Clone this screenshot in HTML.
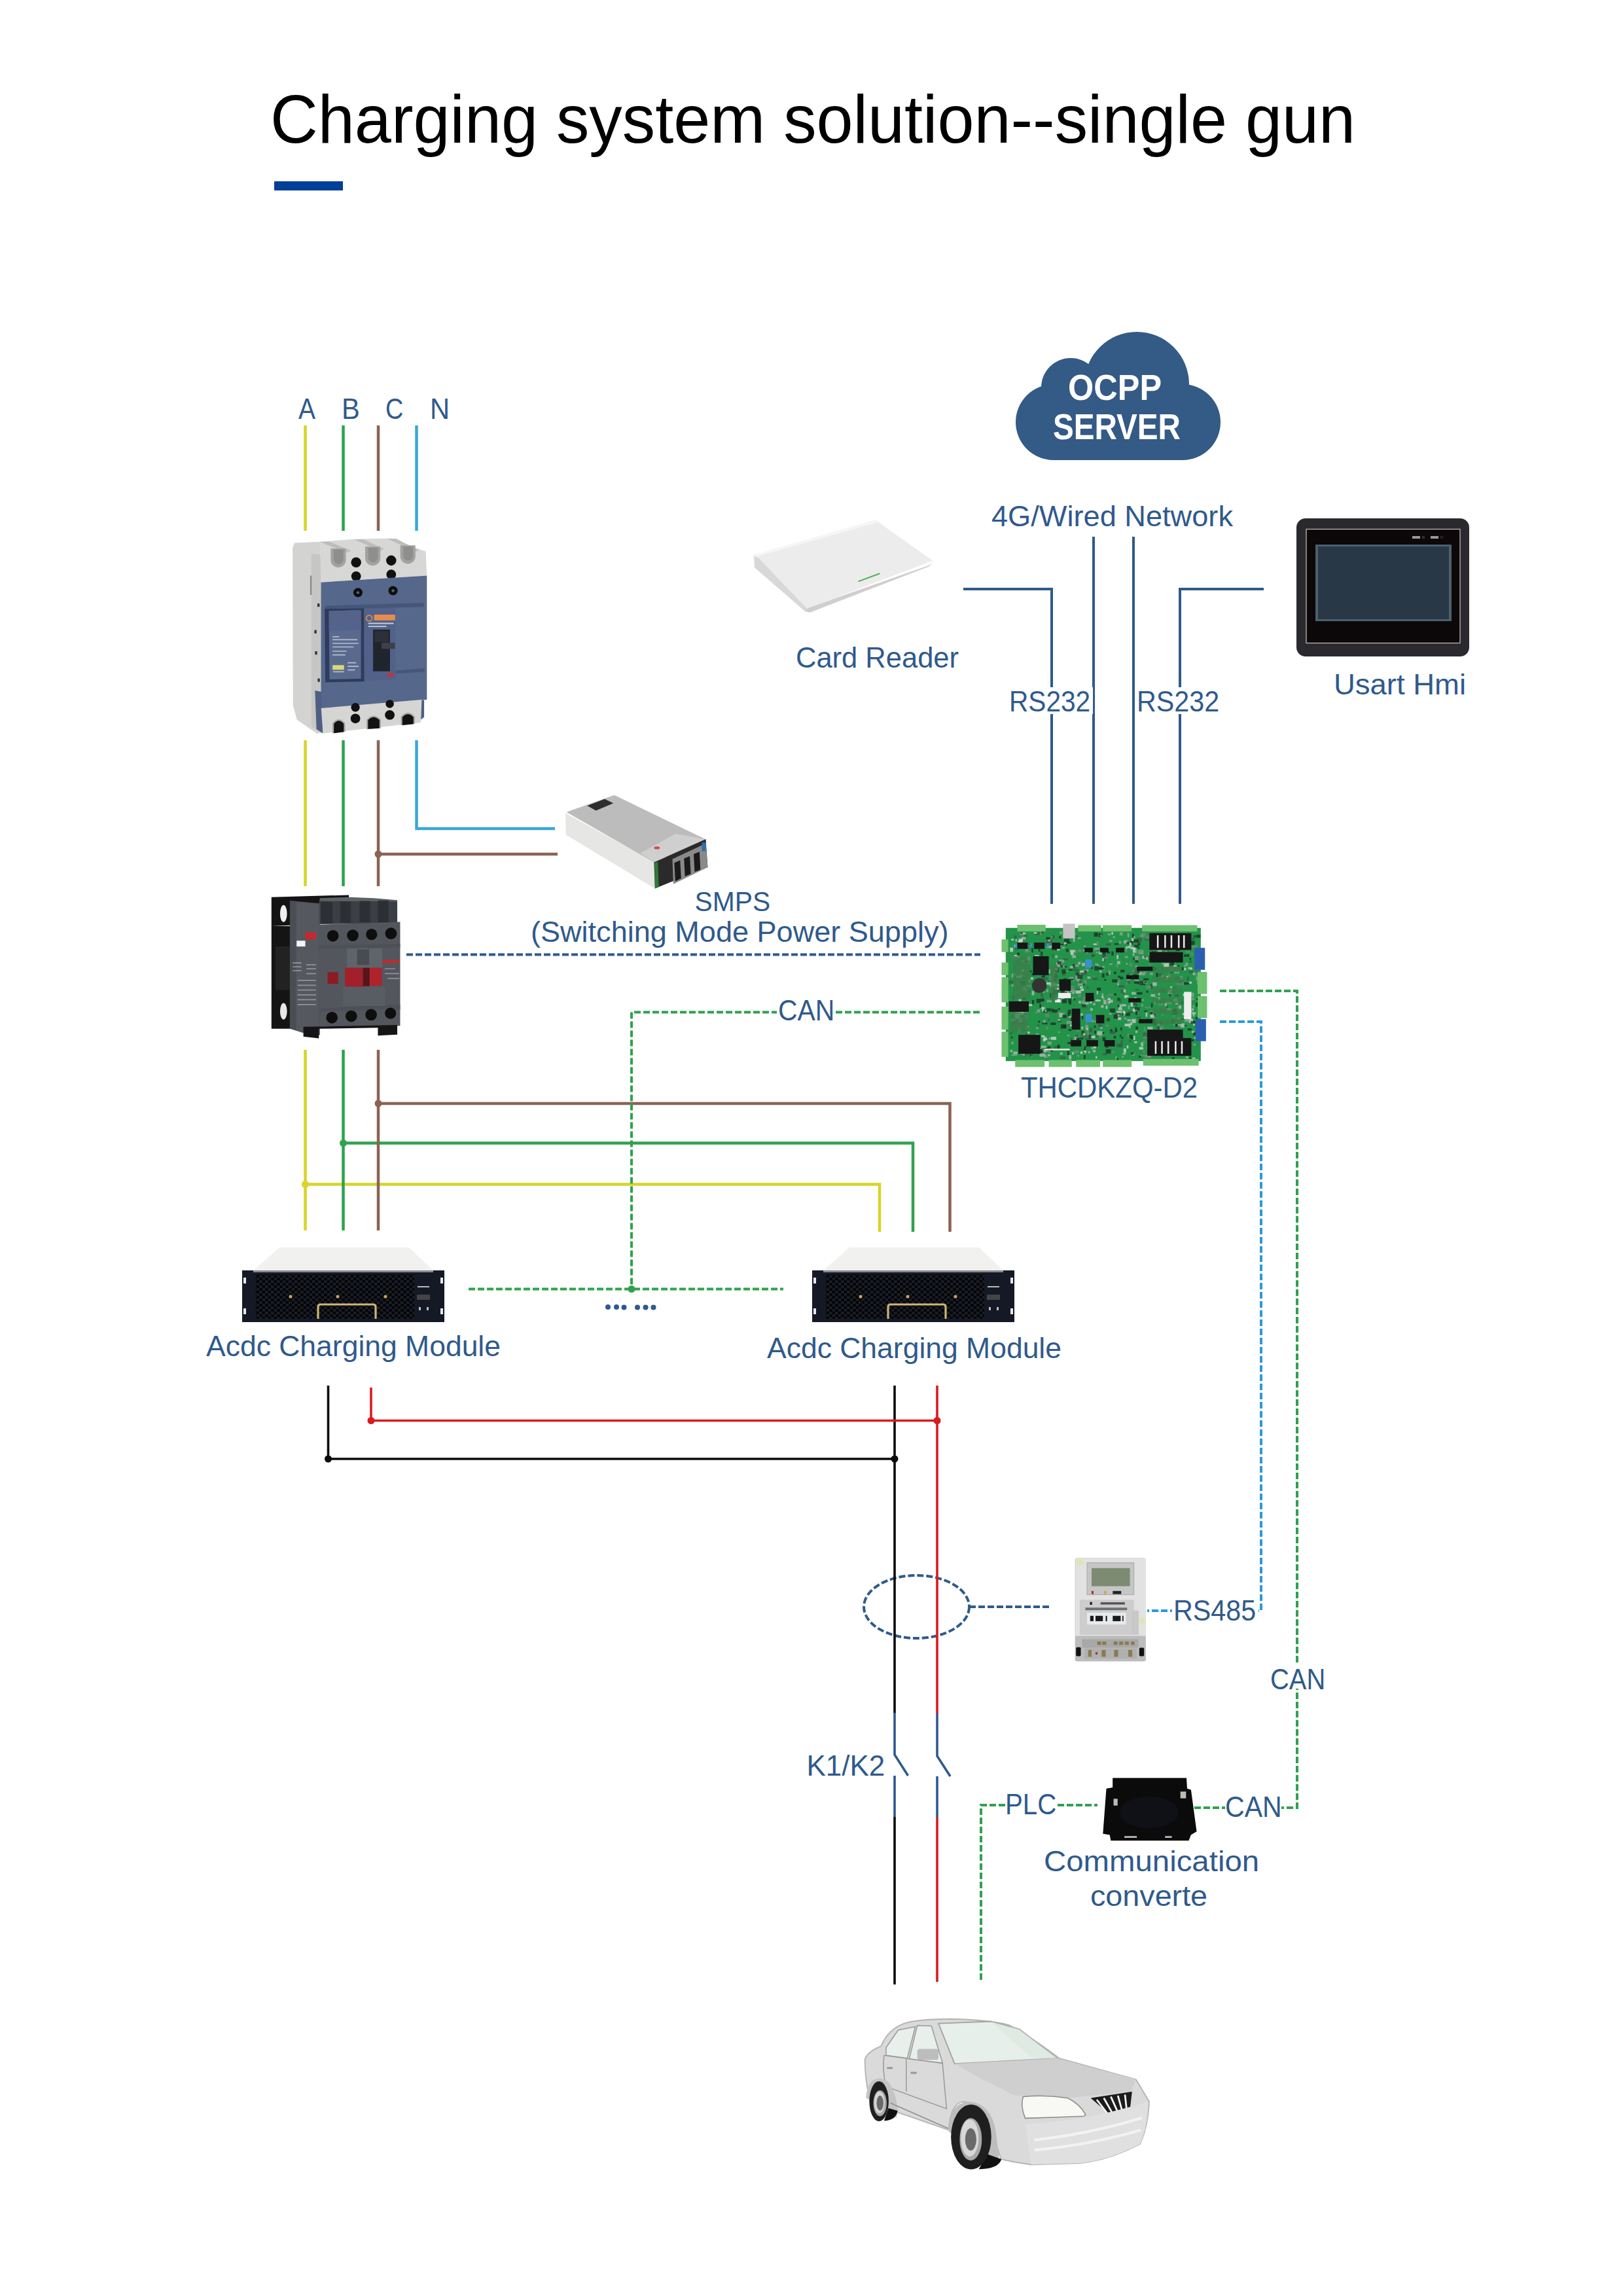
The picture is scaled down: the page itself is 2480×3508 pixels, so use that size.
<!DOCTYPE html>
<html><head><meta charset="utf-8">
<style>
html,body{margin:0;padding:0;background:#fff;}
body{width:2480px;height:3508px;overflow:hidden;position:relative;}
svg{position:absolute;left:0;top:0;}
text{font-family:"Liberation Sans",sans-serif;}
</style></head><body>
<svg width="2480" height="3508" viewBox="0 0 2480 3508">
<!-- title -->
<rect x="419" y="277" width="105" height="14" fill="#003f98"/>

<!-- AC lines -->
<g stroke-width="4.5" fill="none">
<path d="M466.5 650V811M466.5 1131V1354M466.5 1604V1880M466.5 1809.5H1344V1882" stroke="#d8d42a"/>
<path d="M524.5 650V811M524.5 1131V1354M524.5 1604V1880M524.5 1746.5H1395V1882" stroke="#2ea24e"/>
<path d="M578 650V811M578 1131V1354M578 1604V1880M578 1305H852M578 1686H1451.5V1882" stroke="#8b6354"/>
<path d="M636.5 650V811M636.5 1131V1266H848" stroke="#3aa6dc"/>
</g>
<circle cx="466.5" cy="1809.5" r="5.5" fill="#d8d42a"/>
<circle cx="524.5" cy="1746.5" r="5.5" fill="#2ea24e"/>
<circle cx="578" cy="1686" r="5.5" fill="#8b6354"/>
<circle cx="578" cy="1305" r="5.5" fill="#8b6354"/>

<!-- comm lines -->
<g stroke="#2f5a8c" stroke-width="4" fill="none">
<path d="M1472 900H1607V1381M1671 820V1381M1732 820V1381M1931 900H1803V1381"/>
</g>
<g fill="none" stroke-width="4" stroke-dasharray="10 4">
<path d="M621 1458.5H1498" stroke="#2f5a8c"/>
<path d="M1497 1546.5H965V1969.5" stroke="#2ea24e"/>
<path d="M716 1969.5H1197" stroke="#2ea24e"/>
<path d="M1864 1514H1982V2762H1958" stroke="#2ea24e"/>
<path d="M1864 1561H1927V2461H1753" stroke="#2a9ad8"/>
<path d="M1536 2758H1499V3028" stroke="#2ea24e"/>
<path d="M1616 2758H1677" stroke="#2ea24e"/>
<path d="M1825 2762H1872" stroke="#2ea24e"/>
<path d="M1481 2455H1605" stroke="#2f5a8c"/>
<ellipse cx="1400.5" cy="2455" rx="80.5" ry="48" stroke="#2f5a8c"/>
</g>
<circle cx="965" cy="1969.5" r="5.5" fill="#2ea24e"/>

<!-- DC lines -->
<g stroke-width="3.6" fill="none">
<path d="M501.5 2117V2229H1367M1367 2117V2617M1367 2776V3032" stroke="#0d0a0a"/>
<path d="M567 2120V2170.5H1432M1432 2117V2618M1432 2777V3028" stroke="#da1a20"/>
<path d="M1367 2617V2681L1387.5 2713M1367 2713V2776M1432 2618V2683L1452 2714M1432 2714V2777" stroke="#2f5a8c"/>
</g>
<circle cx="501.5" cy="2229" r="5.5" fill="#0d0a0a"/>
<circle cx="1367" cy="2229" r="5.5" fill="#0d0a0a"/>
<circle cx="567" cy="2170.5" r="5.5" fill="#da1a20"/>
<circle cx="1432" cy="2170.5" r="5.5" fill="#da1a20"/>

<!-- cloud -->
<g fill="#345a86">
<circle cx="1610" cy="645" r="58"/><circle cx="1636" cy="592" r="45"/><circle cx="1737" cy="587" r="80"/><circle cx="1807" cy="645" r="58"/><rect x="1610" y="600" width="197" height="103"/>
</g>


<!-- text bg -->
<rect x="1540" y="1050" width="130" height="41" fill="#fff"/>
<rect x="1736" y="1050" width="130" height="41" fill="#fff"/>
<rect x="1187" y="1525" width="89" height="38" fill="#fff"/>
<rect x="1940" y="2544" width="86" height="36" fill="#fff"/>
<rect x="1791" y="2440" width="132" height="40" fill="#fff"/>
<g fill="#2f5a8c"><circle cx="929" cy="1997" r="4"/><circle cx="942" cy="1997" r="4"/><circle cx="953.5" cy="1997.5" r="4"/><circle cx="974" cy="1997.5" r="4"/><circle cx="986.5" cy="1997.5" r="4"/><circle cx="998.5" cy="1997.5" r="4"/></g>

<!-- breaker: zoom origin 400,800 scale 5.41 -->
<g transform="translate(400,800) scale(0.18484)">
<polygon points="255,200 270,160 480,150 490,485 500,1730 455,1735 290,1620 258,1500" fill="#d3d3d1"/>
<polygon points="410,250 490,255 500,1725 410,1680" fill="#c6c6c4"/>
<g fill="#333"><rect x="460" y="660" width="18" height="28"/><rect x="435" y="880" width="18" height="28"/><rect x="440" y="1055" width="18" height="28"/><rect x="462" y="1280" width="18" height="28"/></g>
<rect x="400" y="430" width="12" height="160" fill="#888"/>
<polygon points="480,150 760,128 1050,122 1355,230 1365,430 490,485" fill="#d7d7d5"/>
<g fill="#bdbdbb"><polygon points="480,150 560,150 740,225 700,240"/><polygon points="760,130 840,130 1010,210 980,225"/><polygon points="1040,125 1110,125 1300,220 1270,235"/></g>
<path d="M570,205 H695 V300 A62,62 0 0 1 570,300 Z M855,190 H980 V285 A62,62 0 0 1 855,285 Z M1145,180 H1270 V270 A62,62 0 0 1 1145,270 Z" fill="#a2a2a0"/>
<path d="M595,215 H675 V295 A40,40 0 0 1 595,295 Z M880,200 H960 V280 A40,40 0 0 1 880,280 Z M1170,190 H1250 V265 A40,40 0 0 1 1170,265 Z" fill="#8e8e8c"/>
<g fill="#111"><circle cx="780" cy="320" r="42"/><circle cx="1070" cy="305" r="42"/><circle cx="780" cy="435" r="40"/><circle cx="1070" cy="420" r="40"/></g>
<polygon points="490,485 1365,430 1365,1455 490,1530" fill="#56678c"/>
<polygon points="440,1380 492,1390 506,1734 452,1700" fill="#4f5f84"/>
<polygon points="1315,1460 1342,1458 1342,1600 1315,1620" fill="#4f5f84"/>
<polygon points="525,680 1340,655 1340,690 525,710" fill="#46567a"/>
<g fill="#0e0e0e"><circle cx="795" cy="570" r="38"/><circle cx="1085" cy="555" r="38"/></g>
<g fill="#5a6270"><circle cx="795" cy="570" r="12"/><circle cx="1085" cy="555" r="12"/></g>
<polygon points="520,705 845,700 848,1305 525,1312" fill="#2f3b5c"/>
<polygon points="555,722 820,716 820,1282 560,1288" fill="#5a6a8f"/>
<polygon points="555,722 820,716 820,880 555,890" fill="#53638a"/>
<g stroke="#dfe3ea" stroke-width="9" opacity="0.7"><path d="M585,935H640M585,960H790M585,990H800M585,1020H760M585,1055H700M585,1085H690M710,1150H780M710,1180H800M710,1210H770M590,1225H680"/></g>
<rect x="585" y="1170" width="95" height="38" fill="#d9d874"/>
<polygon points="848,700 1105,695 1105,1290 848,1298" fill="#51618a"/>
<rect x="928" y="752" width="174" height="48" fill="#e58d4e"/>
<circle cx="888" cy="782" r="24" fill="none" stroke="#e58d4e" stroke-width="9"/>
<g stroke="#e6e9ee" stroke-width="10" opacity="0.8"><path d="M880,825H1090M880,850H1030"/></g>
<rect x="920" y="876" width="140" height="345" fill="#20242d"/>
<rect x="932" y="890" width="118" height="90" fill="#2c3039"/>
<rect x="990" y="985" width="112" height="50" fill="#3b4049"/>
<rect x="1040" y="1235" width="50" height="30" fill="#c4323a"/>
<polygon points="1105,695 1345,688 1345,1215 1105,1225" fill="#57688d"/>
<polygon points="1105,1215 1345,1195 1345,1225 1105,1240" fill="#47577c"/>
<polygon points="491,1526 1322,1455 1315,1645 506,1734" fill="#d5d5d3"/>
<path d="M584,1734 V1650 Q637,1585 690,1650 V1720 Z M866,1700 V1620 Q925,1555 985,1620 V1690 Z M1150,1668 V1595 Q1208,1530 1266,1595 V1655 Z" fill="#a6a6a4"/>
<path d="M596,1732 V1655 Q637,1605 678,1655 V1722 Z M878,1698 V1625 Q925,1575 973,1625 V1692 Z M1162,1666 V1600 Q1208,1552 1254,1600 V1657 Z" fill="#121212"/>
<g fill="#111"><circle cx="774" cy="1519" r="36"/><circle cx="1058" cy="1490" r="34"/><circle cx="774" cy="1611" r="40"/><circle cx="1058" cy="1582" r="40"/></g>
</g>
</g>

<!-- contactor: zoom region [400,1350] scale 6.7625 -->
<g transform="translate(400,1350) scale(0.14787)">
<polygon points="100,140 900,118 900,150 600,165 600,420 100,440" fill="#141414"/>
<polygon points="600,150 900,140 1160,150 1400,170 1400,200 600,190" fill="#5e6166"/>
<polygon points="100,440 350,440 350,1500 100,1500" fill="#141414"/>
<polygon points="140,650 290,650 290,1100 140,1100" fill="#222"/>
<ellipse cx="225" cy="310" rx="36" ry="88" fill="#f0f0f0"/>
<ellipse cx="225" cy="1320" rx="36" ry="85" fill="#e8e8e8"/>
<polygon points="290,175 600,205 600,1565 420,1540 290,1500" fill="#4a4d53"/>
<polygon points="355,190 590,210 590,1560 355,1520" fill="#55595f"/>
<rect x="360" y="590" width="90" height="60" fill="#f4f4f4"/>
<rect x="450" y="505" width="110" height="70" fill="#c8262c"/>
<g stroke="#b8bcc2" stroke-width="12" opacity="0.6"><path d="M320,820H410M320,860H410M320,900H410M460,840H560M460,880H560M460,930H560M370,1000H560M370,1050H560M370,1100H560M370,1150H560M370,1200H560M370,1250H560"/></g>
<polygon points="600,180 1400,185 1400,410 600,420" fill="#3b3e44"/>
<g fill="#2c2f34"><rect x="610" y="190" width="120" height="220"/><rect x="810" y="185" width="110" height="220"/><rect x="1010" y="180" width="110" height="220"/><rect x="1200" y="175" width="110" height="230"/></g>
<polygon points="585,425 1430,395 1430,1470 595,1480" fill="#53575d"/>
<polygon points="590,640 1430,620 1430,660 590,670" fill="#4d5056"/>
<polygon points="595,1290 1430,1250 1430,1300 595,1320" fill="#4d5056"/>
<g fill="#0e0e0e"><circle cx="735" cy="540" r="60"/><circle cx="940" cy="535" r="60"/><circle cx="1135" cy="525" r="58"/><circle cx="1335" cy="515" r="60"/><circle cx="725" cy="1385" r="60"/><circle cx="925" cy="1370" r="60"/><circle cx="1130" cy="1355" r="60"/><circle cx="1330" cy="1340" r="58"/></g>
<rect x="880" y="670" width="365" height="200" fill="#5f636a"/>
<rect x="985" y="680" width="125" height="160" fill="#484b50"/>
<rect x="680" y="915" width="110" height="120" fill="#8c1c22"/>
<rect x="860" y="870" width="185" height="200" fill="#a2202a"/>
<rect x="1045" y="870" width="70" height="190" fill="#5a1418"/>
<rect x="1115" y="870" width="125" height="185" fill="#b0222c"/>
<rect x="840" y="1065" width="435" height="200" fill="#585c63"/>
<rect x="1245" y="790" width="175" height="30" fill="#c42a2a"/>
<g stroke="#c6c9ce" stroke-width="10" opacity="0.6"><path d="M1270,880H1380M1270,930H1420M1300,980H1420"/></g>
<polygon points="430,1480 1400,1460 1400,1560 1200,1570 1200,1490 590,1500 590,1600 430,1580" fill="#151515"/>
</g>

<!-- SMPS: origin 850,1200 scale 6.7625 -->
<g transform="translate(850,1200) scale(0.14787)">
<polygon points="95,285 1010,790 1020,1065 100,510" fill="#e6e6e4"/>
<polygon points="105,275 600,100 1540,555 1010,795" fill="#bcbcbc"/>
<polygon points="870,700 1230,500 1540,555 1010,795" fill="#cfcfd0"/>
<polygon points="320,210 500,140 590,185 410,260" fill="#2e2e2e"/>
<ellipse cx="1040" cy="645" rx="30" ry="15" fill="#d84848"/>
<polygon points="1010,795 1545,555 1565,845 1020,1065" fill="#2a2a2a"/>
<polygon points="1200,760 1545,600 1565,845 1210,1020" fill="#8a8a8a"/>
<g fill="#1a1a1a"><polygon points="1220,800 1280,775 1290,960 1230,990"/><polygon points="1320,755 1380,730 1390,915 1330,940"/><polygon points="1420,710 1480,685 1490,870 1430,895"/></g>
<polygon points="1015,800 1050,790 1060,1050 1020,1065" fill="#2f7a3a"/>
<rect x="1505" y="590" width="40" height="90" fill="#2c70b0"/>
</g>

<!-- card reader: origin 1120,760 scale 2.898 -->
<g transform="translate(1120,760) scale(0.34507)">
<polygon points="95,300 320,505 340,510 870,305 885,285 870,300 330,490" fill="#cfcfcf"/>
<polygon points="90,255 630,100 885,280 320,495 95,305" fill="#ececec"/>
<polygon points="90,255 630,100 650,108 105,262" fill="#f6f6f6"/>
<polygon points="95,262 110,265 330,495 320,505 95,310" fill="#d8d8d8"/>
<line x1="555" y1="372" x2="650" y2="337" stroke="#52b04e" stroke-width="6"/>
</g>

<!-- HMI -->
<rect x="1981" y="792" width="264" height="211" rx="14" fill="#2a2a2e"/>
<rect x="1996" y="808.5" width="235" height="174" fill="#0c0809" stroke="#bdb8b8" stroke-width="1.3"/>
<rect x="2010" y="832" width="208" height="117" fill="#4c606e"/>
<rect x="2014" y="835" width="200" height="111" fill="#293847"/>
<g fill="#999"><rect x="2158" y="819" width="12" height="4"/><rect x="2186" y="819" width="12" height="4"/></g>
<rect x="2173" y="819" width="4" height="4" fill="#1f3a2a"/><rect x="2201" y="819" width="4" height="4" fill="#3a1a1e"/>

<!-- controller board: origin 1500,1320 scale 3.121 -->
<g transform="translate(1500,1320) scale(0.32041)">
<rect x="115" y="305" width="930" height="635" fill="#23934a"/>
<rect x="421" y="411" width="25" height="8" fill="#6f8a78" opacity="0.75"/>
<rect x="869" y="377" width="20" height="8" fill="#8fa898" opacity="0.75"/>
<rect x="323" y="372" width="15" height="8" fill="#b8c4bc" opacity="0.75"/>
<rect x="212" y="577" width="20" height="8" fill="#b8c4bc" opacity="0.75"/>
<rect x="698" y="673" width="8" height="20" fill="#8fa898" opacity="0.75"/>
<rect x="487" y="911" width="8" height="20" fill="#14301f" opacity="0.75"/>
<rect x="250" y="574" width="20" height="8" fill="#8fa898" opacity="0.75"/>
<rect x="408" y="814" width="10" height="8" fill="#8fa898" opacity="0.75"/>
<rect x="644" y="434" width="8" height="20" fill="#d8dcd6" opacity="0.75"/>
<rect x="187" y="356" width="10" height="15" fill="#d8dcd6" opacity="0.75"/>
<rect x="609" y="790" width="15" height="20" fill="#3a5a48" opacity="0.75"/>
<rect x="455" y="470" width="10" height="10" fill="#6f8a78" opacity="0.75"/>
<rect x="647" y="638" width="12" height="15" fill="#1e2a24" opacity="0.75"/>
<rect x="678" y="364" width="20" height="15" fill="#b8c4bc" opacity="0.75"/>
<rect x="811" y="412" width="15" height="15" fill="#6f8a78" opacity="0.75"/>
<rect x="996" y="367" width="20" height="20" fill="#14301f" opacity="0.75"/>
<rect x="918" y="510" width="25" height="12" fill="#8fa898" opacity="0.75"/>
<rect x="577" y="802" width="8" height="8" fill="#1e2a24" opacity="0.75"/>
<rect x="557" y="722" width="8" height="12" fill="#d8dcd6" opacity="0.75"/>
<rect x="650" y="732" width="15" height="12" fill="#d8dcd6" opacity="0.75"/>
<rect x="477" y="725" width="8" height="15" fill="#1e2a24" opacity="0.75"/>
<rect x="281" y="391" width="8" height="10" fill="#14301f" opacity="0.75"/>
<rect x="389" y="767" width="15" height="15" fill="#14301f" opacity="0.75"/>
<rect x="577" y="421" width="15" height="20" fill="#1e2a24" opacity="0.75"/>
<rect x="925" y="816" width="20" height="12" fill="#d8dcd6" opacity="0.75"/>
<rect x="504" y="537" width="15" height="10" fill="#b8c4bc" opacity="0.75"/>
<rect x="205" y="412" width="25" height="10" fill="#6f8a78" opacity="0.75"/>
<rect x="566" y="676" width="12" height="12" fill="#6f8a78" opacity="0.75"/>
<rect x="261" y="643" width="20" height="20" fill="#1e2a24" opacity="0.75"/>
<rect x="988" y="738" width="20" height="20" fill="#d8dcd6" opacity="0.75"/>
<rect x="739" y="353" width="25" height="20" fill="#3a5a48" opacity="0.75"/>
<rect x="488" y="558" width="15" height="15" fill="#6f8a78" opacity="0.75"/>
<rect x="302" y="916" width="15" height="10" fill="#6f8a78" opacity="0.75"/>
<rect x="436" y="352" width="8" height="20" fill="#b8c4bc" opacity="0.75"/>
<rect x="613" y="894" width="20" height="8" fill="#6f8a78" opacity="0.75"/>
<rect x="917" y="692" width="10" height="12" fill="#1e2a24" opacity="0.75"/>
<rect x="672" y="607" width="8" height="15" fill="#3a5a48" opacity="0.75"/>
<rect x="562" y="509" width="10" height="8" fill="#d8dcd6" opacity="0.75"/>
<rect x="438" y="480" width="25" height="10" fill="#8fa898" opacity="0.75"/>
<rect x="151" y="895" width="20" height="12" fill="#b8c4bc" opacity="0.75"/>
<rect x="751" y="873" width="20" height="12" fill="#d8dcd6" opacity="0.75"/>
<rect x="907" y="741" width="12" height="20" fill="#1e2a24" opacity="0.75"/>
<rect x="947" y="535" width="10" height="20" fill="#8fa898" opacity="0.75"/>
<rect x="831" y="519" width="10" height="20" fill="#14301f" opacity="0.75"/>
<rect x="840" y="779" width="10" height="10" fill="#14301f" opacity="0.75"/>
<rect x="491" y="806" width="10" height="20" fill="#3a5a48" opacity="0.75"/>
<rect x="450" y="338" width="8" height="12" fill="#3a5a48" opacity="0.75"/>
<rect x="363" y="739" width="12" height="15" fill="#14301f" opacity="0.75"/>
<rect x="973" y="918" width="12" height="8" fill="#b8c4bc" opacity="0.75"/>
<rect x="222" y="604" width="12" height="10" fill="#3a5a48" opacity="0.75"/>
<rect x="692" y="865" width="8" height="15" fill="#d8dcd6" opacity="0.75"/>
<rect x="440" y="709" width="25" height="8" fill="#3a5a48" opacity="0.75"/>
<rect x="834" y="774" width="15" height="10" fill="#3a5a48" opacity="0.75"/>
<rect x="840" y="521" width="25" height="15" fill="#3a5a48" opacity="0.75"/>
<rect x="491" y="893" width="25" height="10" fill="#b8c4bc" opacity="0.75"/>
<rect x="1024" y="337" width="20" height="15" fill="#14301f" opacity="0.75"/>
<rect x="720" y="690" width="20" height="15" fill="#d8dcd6" opacity="0.75"/>
<rect x="974" y="414" width="20" height="10" fill="#6f8a78" opacity="0.75"/>
<rect x="143" y="907" width="25" height="8" fill="#8fa898" opacity="0.75"/>
<rect x="805" y="404" width="10" height="10" fill="#6f8a78" opacity="0.75"/>
<rect x="357" y="497" width="10" height="20" fill="#1e2a24" opacity="0.75"/>
<rect x="363" y="574" width="10" height="8" fill="#d8dcd6" opacity="0.75"/>
<rect x="448" y="597" width="20" height="20" fill="#3a5a48" opacity="0.75"/>
<rect x="874" y="851" width="10" height="20" fill="#b8c4bc" opacity="0.75"/>
<rect x="601" y="331" width="15" height="10" fill="#8fa898" opacity="0.75"/>
<rect x="134" y="803" width="10" height="10" fill="#3a5a48" opacity="0.75"/>
<rect x="687" y="393" width="8" height="12" fill="#d8dcd6" opacity="0.75"/>
<rect x="597" y="656" width="8" height="20" fill="#6f8a78" opacity="0.75"/>
<rect x="354" y="488" width="8" height="20" fill="#3a5a48" opacity="0.75"/>
<rect x="636" y="780" width="8" height="15" fill="#1e2a24" opacity="0.75"/>
<rect x="681" y="626" width="20" height="10" fill="#d8dcd6" opacity="0.75"/>
<rect x="379" y="627" width="15" height="20" fill="#b8c4bc" opacity="0.75"/>
<rect x="759" y="850" width="12" height="20" fill="#b8c4bc" opacity="0.75"/>
<rect x="886" y="403" width="8" height="15" fill="#3a5a48" opacity="0.75"/>
<rect x="414" y="726" width="15" height="8" fill="#b8c4bc" opacity="0.75"/>
<rect x="733" y="794" width="10" height="12" fill="#b8c4bc" opacity="0.75"/>
<rect x="358" y="403" width="15" height="10" fill="#d8dcd6" opacity="0.75"/>
<rect x="987" y="561" width="15" height="10" fill="#d8dcd6" opacity="0.75"/>
<rect x="879" y="418" width="15" height="20" fill="#3a5a48" opacity="0.75"/>
<rect x="435" y="438" width="12" height="8" fill="#d8dcd6" opacity="0.75"/>
<rect x="459" y="524" width="15" height="15" fill="#d8dcd6" opacity="0.75"/>
<rect x="146" y="521" width="20" height="12" fill="#8fa898" opacity="0.75"/>
<rect x="995" y="388" width="10" height="8" fill="#6f8a78" opacity="0.75"/>
<rect x="369" y="344" width="10" height="12" fill="#14301f" opacity="0.75"/>
<rect x="247" y="575" width="25" height="12" fill="#3a5a48" opacity="0.75"/>
<rect x="264" y="876" width="20" height="15" fill="#d8dcd6" opacity="0.75"/>
<rect x="424" y="489" width="25" height="10" fill="#3a5a48" opacity="0.75"/>
<rect x="936" y="483" width="8" height="8" fill="#14301f" opacity="0.75"/>
<rect x="364" y="688" width="10" height="8" fill="#1e2a24" opacity="0.75"/>
<rect x="906" y="595" width="12" height="20" fill="#3a5a48" opacity="0.75"/>
<rect x="964" y="482" width="10" height="8" fill="#8fa898" opacity="0.75"/>
<rect x="769" y="888" width="10" height="12" fill="#6f8a78" opacity="0.75"/>
<rect x="293" y="884" width="25" height="12" fill="#8fa898" opacity="0.75"/>
<rect x="814" y="495" width="20" height="10" fill="#1e2a24" opacity="0.75"/>
<rect x="442" y="331" width="12" height="8" fill="#6f8a78" opacity="0.75"/>
<rect x="147" y="626" width="10" height="20" fill="#3a5a48" opacity="0.75"/>
<rect x="351" y="590" width="25" height="15" fill="#d8dcd6" opacity="0.75"/>
<rect x="576" y="825" width="15" height="20" fill="#1e2a24" opacity="0.75"/>
<rect x="749" y="914" width="12" height="10" fill="#14301f" opacity="0.75"/>
<rect x="924" y="761" width="10" height="15" fill="#1e2a24" opacity="0.75"/>
<rect x="1014" y="826" width="8" height="8" fill="#d8dcd6" opacity="0.75"/>
<rect x="797" y="475" width="10" height="8" fill="#6f8a78" opacity="0.75"/>
<rect x="729" y="550" width="20" height="12" fill="#8fa898" opacity="0.75"/>
<rect x="348" y="497" width="15" height="10" fill="#b8c4bc" opacity="0.75"/>
<rect x="372" y="322" width="12" height="12" fill="#8fa898" opacity="0.75"/>
<rect x="421" y="341" width="12" height="10" fill="#1e2a24" opacity="0.75"/>
<rect x="295" y="523" width="8" height="15" fill="#1e2a24" opacity="0.75"/>
<rect x="582" y="442" width="20" height="8" fill="#6f8a78" opacity="0.75"/>
<rect x="368" y="374" width="15" height="20" fill="#6f8a78" opacity="0.75"/>
<rect x="485" y="501" width="25" height="10" fill="#6f8a78" opacity="0.75"/>
<rect x="657" y="640" width="10" height="20" fill="#3a5a48" opacity="0.75"/>
<rect x="818" y="756" width="15" height="10" fill="#1e2a24" opacity="0.75"/>
<rect x="782" y="709" width="8" height="20" fill="#d8dcd6" opacity="0.75"/>
<rect x="516" y="744" width="20" height="10" fill="#8fa898" opacity="0.75"/>
<rect x="808" y="664" width="8" height="20" fill="#14301f" opacity="0.75"/>
<rect x="934" y="733" width="25" height="10" fill="#6f8a78" opacity="0.75"/>
<rect x="158" y="401" width="12" height="8" fill="#3a5a48" opacity="0.75"/>
<rect x="882" y="658" width="25" height="8" fill="#d8dcd6" opacity="0.75"/>
<rect x="608" y="468" width="12" height="8" fill="#3a5a48" opacity="0.75"/>
<rect x="848" y="773" width="20" height="20" fill="#6f8a78" opacity="0.75"/>
<rect x="723" y="360" width="25" height="15" fill="#1e2a24" opacity="0.75"/>
<rect x="858" y="832" width="10" height="10" fill="#b8c4bc" opacity="0.75"/>
<rect x="796" y="910" width="15" height="15" fill="#6f8a78" opacity="0.75"/>
<rect x="561" y="734" width="8" height="20" fill="#d8dcd6" opacity="0.75"/>
<rect x="708" y="367" width="10" height="12" fill="#1e2a24" opacity="0.75"/>
<rect x="716" y="739" width="20" height="20" fill="#b8c4bc" opacity="0.75"/>
<rect x="141" y="357" width="12" height="8" fill="#d8dcd6" opacity="0.75"/>
<rect x="326" y="616" width="25" height="20" fill="#1e2a24" opacity="0.75"/>
<rect x="548" y="602" width="8" height="20" fill="#b8c4bc" opacity="0.75"/>
<rect x="411" y="372" width="15" height="8" fill="#1e2a24" opacity="0.75"/>
<rect x="543" y="816" width="15" height="12" fill="#3a5a48" opacity="0.75"/>
<rect x="319" y="892" width="10" height="8" fill="#8fa898" opacity="0.75"/>
<rect x="211" y="772" width="12" height="12" fill="#b8c4bc" opacity="0.75"/>
<rect x="673" y="702" width="12" height="8" fill="#d8dcd6" opacity="0.75"/>
<rect x="459" y="621" width="15" height="15" fill="#6f8a78" opacity="0.75"/>
<rect x="273" y="895" width="25" height="15" fill="#3a5a48" opacity="0.75"/>
<rect x="402" y="405" width="12" height="15" fill="#1e2a24" opacity="0.75"/>
<rect x="239" y="520" width="12" height="12" fill="#14301f" opacity="0.75"/>
<rect x="488" y="889" width="10" height="8" fill="#d8dcd6" opacity="0.75"/>
<rect x="391" y="545" width="15" height="15" fill="#14301f" opacity="0.75"/>
<rect x="660" y="538" width="15" height="12" fill="#14301f" opacity="0.75"/>
<rect x="173" y="382" width="25" height="12" fill="#d8dcd6" opacity="0.75"/>
<rect x="972" y="471" width="12" height="15" fill="#8fa898" opacity="0.75"/>
<rect x="414" y="788" width="15" height="8" fill="#14301f" opacity="0.75"/>
<rect x="815" y="562" width="20" height="20" fill="#b8c4bc" opacity="0.75"/>
<rect x="778" y="350" width="25" height="15" fill="#3a5a48" opacity="0.75"/>
<rect x="683" y="404" width="12" height="15" fill="#6f8a78" opacity="0.75"/>
<rect x="951" y="653" width="10" height="15" fill="#3a5a48" opacity="0.75"/>
<rect x="439" y="500" width="25" height="12" fill="#3a5a48" opacity="0.75"/>
<rect x="720" y="502" width="20" height="15" fill="#6f8a78" opacity="0.75"/>
<rect x="281" y="418" width="10" height="20" fill="#14301f" opacity="0.75"/>
<rect x="577" y="453" width="12" height="15" fill="#3a5a48" opacity="0.75"/>
<rect x="256" y="436" width="8" height="10" fill="#1e2a24" opacity="0.75"/>
<rect x="630" y="513" width="12" height="12" fill="#14301f" opacity="0.75"/>
<rect x="643" y="857" width="25" height="15" fill="#3a5a48" opacity="0.75"/>
<rect x="502" y="637" width="15" height="12" fill="#1e2a24" opacity="0.75"/>
<rect x="807" y="621" width="20" height="12" fill="#b8c4bc" opacity="0.75"/>
<rect x="748" y="640" width="10" height="8" fill="#1e2a24" opacity="0.75"/>
<rect x="937" y="553" width="25" height="15" fill="#3a5a48" opacity="0.75"/>
<rect x="989" y="833" width="8" height="10" fill="#6f8a78" opacity="0.75"/>
<rect x="513" y="782" width="15" height="20" fill="#3a5a48" opacity="0.75"/>
<rect x="130" y="557" width="20" height="15" fill="#3a5a48" opacity="0.75"/>
<rect x="354" y="386" width="10" height="10" fill="#8fa898" opacity="0.75"/>
<rect x="1005" y="386" width="25" height="15" fill="#6f8a78" opacity="0.75"/>
<rect x="626" y="344" width="10" height="10" fill="#8fa898" opacity="0.75"/>
<rect x="958" y="711" width="12" height="10" fill="#d8dcd6" opacity="0.75"/>
<rect x="357" y="705" width="25" height="8" fill="#6f8a78" opacity="0.75"/>
<rect x="193" y="637" width="20" height="10" fill="#3a5a48" opacity="0.75"/>
<rect x="365" y="798" width="8" height="8" fill="#8fa898" opacity="0.75"/>
<rect x="401" y="599" width="12" height="10" fill="#3a5a48" opacity="0.75"/>
<rect x="604" y="651" width="8" height="15" fill="#d8dcd6" opacity="0.75"/>
<rect x="715" y="353" width="10" height="15" fill="#d8dcd6" opacity="0.75"/>
<rect x="712" y="369" width="10" height="15" fill="#1e2a24" opacity="0.75"/>
<rect x="334" y="341" width="12" height="15" fill="#1e2a24" opacity="0.75"/>
<rect x="744" y="440" width="12" height="20" fill="#6f8a78" opacity="0.75"/>
<rect x="315" y="907" width="12" height="10" fill="#b8c4bc" opacity="0.75"/>
<rect x="549" y="480" width="12" height="8" fill="#8fa898" opacity="0.75"/>
<rect x="576" y="433" width="10" height="15" fill="#3a5a48" opacity="0.75"/>
<rect x="949" y="354" width="20" height="10" fill="#3a5a48" opacity="0.75"/>
<rect x="179" y="334" width="20" height="10" fill="#3a5a48" opacity="0.75"/>
<rect x="177" y="356" width="15" height="15" fill="#d8dcd6" opacity="0.75"/>
<rect x="925" y="763" width="8" height="10" fill="#1e2a24" opacity="0.75"/>
<rect x="302" y="715" width="20" height="15" fill="#6f8a78" opacity="0.75"/>
<rect x="411" y="759" width="12" height="12" fill="#3a5a48" opacity="0.75"/>
<rect x="282" y="322" width="12" height="8" fill="#1e2a24" opacity="0.75"/>
<rect x="508" y="856" width="20" height="10" fill="#3a5a48" opacity="0.75"/>
<rect x="451" y="817" width="15" height="8" fill="#6f8a78" opacity="0.75"/>
<rect x="765" y="438" width="20" height="15" fill="#b8c4bc" opacity="0.75"/>
<rect x="421" y="766" width="15" height="8" fill="#d8dcd6" opacity="0.75"/>
<rect x="500" y="811" width="15" height="8" fill="#3a5a48" opacity="0.75"/>
<rect x="161" y="358" width="8" height="12" fill="#b8c4bc" opacity="0.75"/>
<rect x="803" y="864" width="12" height="12" fill="#1e2a24" opacity="0.75"/>
<rect x="431" y="897" width="8" height="12" fill="#d8dcd6" opacity="0.75"/>
<rect x="775" y="511" width="12" height="12" fill="#6f8a78" opacity="0.75"/>
<rect x="779" y="680" width="25" height="8" fill="#6f8a78" opacity="0.75"/>
<rect x="873" y="385" width="25" height="15" fill="#14301f" opacity="0.75"/>
<rect x="478" y="472" width="15" height="15" fill="#b8c4bc" opacity="0.75"/>
<rect x="965" y="431" width="25" height="12" fill="#14301f" opacity="0.75"/>
<rect x="753" y="412" width="10" height="12" fill="#14301f" opacity="0.75"/>
<rect x="418" y="539" width="20" height="8" fill="#8fa898" opacity="0.75"/>
<rect x="308" y="775" width="10" height="15" fill="#6f8a78" opacity="0.75"/>
<rect x="715" y="611" width="20" height="12" fill="#b8c4bc" opacity="0.75"/>
<rect x="1012" y="855" width="8" height="12" fill="#8fa898" opacity="0.75"/>
<rect x="206" y="378" width="15" height="15" fill="#b8c4bc" opacity="0.75"/>
<rect x="341" y="572" width="20" height="10" fill="#d8dcd6" opacity="0.75"/>
<rect x="615" y="788" width="8" height="12" fill="#1e2a24" opacity="0.75"/>
<rect x="381" y="482" width="12" height="12" fill="#b8c4bc" opacity="0.75"/>
<rect x="525" y="432" width="10" height="10" fill="#1e2a24" opacity="0.75"/>
<rect x="926" y="670" width="12" height="8" fill="#3a5a48" opacity="0.75"/>
<rect x="356" y="469" width="20" height="10" fill="#d8dcd6" opacity="0.75"/>
<rect x="858" y="715" width="8" height="8" fill="#6f8a78" opacity="0.75"/>
<rect x="557" y="816" width="15" height="12" fill="#6f8a78" opacity="0.75"/>
<rect x="919" y="461" width="8" height="10" fill="#8fa898" opacity="0.75"/>
<rect x="1006" y="673" width="8" height="12" fill="#8fa898" opacity="0.75"/>
<rect x="910" y="592" width="12" height="8" fill="#6f8a78" opacity="0.75"/>
<rect x="704" y="749" width="12" height="10" fill="#6f8a78" opacity="0.75"/>
<rect x="462" y="406" width="10" height="12" fill="#6f8a78" opacity="0.75"/>
<rect x="669" y="714" width="10" height="8" fill="#14301f" opacity="0.75"/>
<rect x="425" y="730" width="10" height="20" fill="#1e2a24" opacity="0.75"/>
<rect x="200" y="339" width="15" height="20" fill="#3a5a48" opacity="0.75"/>
<rect x="187" y="381" width="15" height="20" fill="#b8c4bc" opacity="0.75"/>
<rect x="705" y="375" width="10" height="15" fill="#d8dcd6" opacity="0.75"/>
<rect x="374" y="918" width="25" height="12" fill="#3a5a48" opacity="0.75"/>
<rect x="988" y="509" width="20" height="12" fill="#3a5a48" opacity="0.75"/>
<rect x="505" y="843" width="12" height="10" fill="#3a5a48" opacity="0.75"/>
<rect x="785" y="443" width="8" height="15" fill="#b8c4bc" opacity="0.75"/>
<rect x="511" y="816" width="15" height="20" fill="#1e2a24" opacity="0.75"/>
<rect x="545" y="418" width="8" height="8" fill="#8fa898" opacity="0.75"/>
<rect x="258" y="808" width="15" height="8" fill="#8fa898" opacity="0.75"/>
<rect x="690" y="544" width="20" height="10" fill="#b8c4bc" opacity="0.75"/>
<rect x="443" y="418" width="10" height="8" fill="#6f8a78" opacity="0.75"/>
<rect x="475" y="776" width="10" height="12" fill="#b8c4bc" opacity="0.75"/>
<rect x="884" y="346" width="15" height="12" fill="#6f8a78" opacity="0.75"/>
<rect x="677" y="705" width="8" height="20" fill="#d8dcd6" opacity="0.75"/>
<rect x="872" y="417" width="10" height="20" fill="#3a5a48" opacity="0.75"/>
<rect x="683" y="439" width="15" height="10" fill="#8fa898" opacity="0.75"/>
<rect x="326" y="562" width="20" height="10" fill="#3a5a48" opacity="0.75"/>
<rect x="453" y="410" width="25" height="10" fill="#6f8a78" opacity="0.75"/>
<rect x="925" y="830" width="25" height="8" fill="#d8dcd6" opacity="0.75"/>
<rect x="884" y="391" width="20" height="15" fill="#8fa898" opacity="0.75"/>
<rect x="894" y="791" width="25" height="15" fill="#1e2a24" opacity="0.75"/>
<rect x="654" y="578" width="25" height="12" fill="#3a5a48" opacity="0.75"/>
<rect x="583" y="428" width="8" height="20" fill="#3a5a48" opacity="0.75"/>
<rect x="549" y="590" width="20" height="15" fill="#14301f" opacity="0.75"/>
<rect x="292" y="606" width="8" height="8" fill="#b8c4bc" opacity="0.75"/>
<rect x="453" y="541" width="15" height="20" fill="#8fa898" opacity="0.75"/>
<rect x="721" y="345" width="10" height="8" fill="#d8dcd6" opacity="0.75"/>
<rect x="412" y="756" width="8" height="8" fill="#14301f" opacity="0.75"/>
<rect x="584" y="549" width="10" height="8" fill="#14301f" opacity="0.75"/>
<rect x="190" y="692" width="25" height="8" fill="#b8c4bc" opacity="0.75"/>
<rect x="248" y="856" width="12" height="10" fill="#d8dcd6" opacity="0.75"/>
<rect x="840" y="883" width="8" height="12" fill="#8fa898" opacity="0.75"/>
<rect x="811" y="416" width="20" height="12" fill="#14301f" opacity="0.75"/>
<rect x="541" y="474" width="15" height="10" fill="#8fa898" opacity="0.75"/>
<rect x="367" y="626" width="12" height="12" fill="#6f8a78" opacity="0.75"/>
<rect x="309" y="564" width="25" height="12" fill="#d8dcd6" opacity="0.75"/>
<rect x="425" y="548" width="12" height="8" fill="#14301f" opacity="0.75"/>
<rect x="608" y="705" width="12" height="15" fill="#8fa898" opacity="0.75"/>
<rect x="599" y="737" width="8" height="12" fill="#8fa898" opacity="0.75"/>
<rect x="697" y="559" width="12" height="12" fill="#3a5a48" opacity="0.75"/>
<rect x="1021" y="669" width="12" height="12" fill="#14301f" opacity="0.75"/>
<rect x="203" y="459" width="20" height="8" fill="#1e2a24" opacity="0.75"/>
<rect x="868" y="473" width="25" height="20" fill="#d8dcd6" opacity="0.75"/>
<rect x="936" y="763" width="25" height="8" fill="#b8c4bc" opacity="0.75"/>
<rect x="264" y="693" width="15" height="15" fill="#8fa898" opacity="0.75"/>
<rect x="458" y="349" width="15" height="10" fill="#8fa898" opacity="0.75"/>
<rect x="718" y="333" width="8" height="20" fill="#1e2a24" opacity="0.75"/>
<rect x="403" y="636" width="20" height="10" fill="#3a5a48" opacity="0.75"/>
<rect x="655" y="676" width="10" height="12" fill="#8fa898" opacity="0.75"/>
<rect x="876" y="416" width="8" height="10" fill="#d8dcd6" opacity="0.75"/>
<rect x="264" y="378" width="25" height="10" fill="#14301f" opacity="0.75"/>
<rect x="729" y="483" width="12" height="8" fill="#6f8a78" opacity="0.75"/>
<rect x="710" y="660" width="12" height="20" fill="#d8dcd6" opacity="0.75"/>
<rect x="651" y="684" width="20" height="15" fill="#b8c4bc" opacity="0.75"/>
<rect x="279" y="320" width="8" height="20" fill="#6f8a78" opacity="0.75"/>
<rect x="495" y="464" width="8" height="8" fill="#6f8a78" opacity="0.75"/>
<rect x="681" y="717" width="10" height="10" fill="#3a5a48" opacity="0.75"/>
<rect x="310" y="688" width="20" height="15" fill="#14301f" opacity="0.75"/>
<rect x="682" y="628" width="8" height="12" fill="#d8dcd6" opacity="0.75"/>
<rect x="174" y="858" width="15" height="20" fill="#6f8a78" opacity="0.75"/>
<rect x="468" y="584" width="15" height="8" fill="#d8dcd6" opacity="0.75"/>
<rect x="720" y="426" width="8" height="12" fill="#b8c4bc" opacity="0.75"/>
<rect x="710" y="395" width="25" height="12" fill="#d8dcd6" opacity="0.75"/>
<rect x="177" y="705" width="25" height="15" fill="#d8dcd6" opacity="0.75"/>
<rect x="840" y="637" width="12" height="12" fill="#d8dcd6" opacity="0.75"/>
<rect x="966" y="861" width="8" height="20" fill="#6f8a78" opacity="0.75"/>
<rect x="283" y="867" width="25" height="10" fill="#b8c4bc" opacity="0.75"/>
<rect x="802" y="518" width="15" height="12" fill="#8fa898" opacity="0.75"/>
<rect x="345" y="869" width="25" height="20" fill="#3a5a48" opacity="0.75"/>
<rect x="555" y="641" width="8" height="8" fill="#3a5a48" opacity="0.75"/>
<rect x="990" y="461" width="12" height="10" fill="#3a5a48" opacity="0.75"/>
<rect x="690" y="367" width="10" height="10" fill="#6f8a78" opacity="0.75"/>
<rect x="154" y="385" width="10" height="12" fill="#b8c4bc" opacity="0.75"/>
<rect x="761" y="339" width="10" height="8" fill="#d8dcd6" opacity="0.75"/>
<rect x="191" y="348" width="20" height="12" fill="#b8c4bc" opacity="0.75"/>
<rect x="866" y="816" width="25" height="8" fill="#14301f" opacity="0.75"/>
<rect x="810" y="750" width="15" height="8" fill="#b8c4bc" opacity="0.75"/>
<rect x="315" y="388" width="8" height="8" fill="#14301f" opacity="0.75"/>
<rect x="806" y="703" width="15" height="8" fill="#b8c4bc" opacity="0.75"/>
<rect x="218" y="778" width="10" height="12" fill="#1e2a24" opacity="0.75"/>
<rect x="433" y="478" width="12" height="12" fill="#1e2a24" opacity="0.75"/>
<rect x="174" y="780" width="12" height="20" fill="#8fa898" opacity="0.75"/>
<rect x="558" y="494" width="25" height="8" fill="#14301f" opacity="0.75"/>
<rect x="502" y="584" width="8" height="12" fill="#3a5a48" opacity="0.75"/>
<rect x="764" y="645" width="10" height="8" fill="#8fa898" opacity="0.75"/>
<rect x="868" y="423" width="8" height="20" fill="#b8c4bc" opacity="0.75"/>
<rect x="390" y="774" width="8" height="8" fill="#1e2a24" opacity="0.75"/>
<rect x="572" y="617" width="10" height="15" fill="#8fa898" opacity="0.75"/>
<rect x="442" y="823" width="12" height="20" fill="#b8c4bc" opacity="0.75"/>
<rect x="385" y="450" width="25" height="10" fill="#3a5a48" opacity="0.75"/>
<rect x="279" y="888" width="8" height="15" fill="#14301f" opacity="0.75"/>
<rect x="1022" y="660" width="8" height="12" fill="#1e2a24" opacity="0.75"/>
<rect x="216" y="882" width="25" height="8" fill="#3a5a48" opacity="0.75"/>
<rect x="930" y="335" width="10" height="12" fill="#1e2a24" opacity="0.75"/>
<rect x="515" y="650" width="10" height="15" fill="#d8dcd6" opacity="0.75"/>
<rect x="340" y="599" width="20" height="20" fill="#14301f" opacity="0.75"/>
<rect x="750" y="686" width="8" height="12" fill="#8fa898" opacity="0.75"/>
<rect x="424" y="414" width="15" height="20" fill="#d8dcd6" opacity="0.75"/>
<rect x="421" y="600" width="25" height="12" fill="#8fa898" opacity="0.75"/>
<rect x="338" y="522" width="25" height="10" fill="#8fa898" opacity="0.75"/>
<rect x="302" y="502" width="25" height="20" fill="#b8c4bc" opacity="0.75"/>
<rect x="781" y="910" width="25" height="12" fill="#8fa898" opacity="0.75"/>
<rect x="600" y="417" width="12" height="10" fill="#1e2a24" opacity="0.75"/>
<rect x="1008" y="761" width="8" height="10" fill="#d8dcd6" opacity="0.75"/>
<rect x="221" y="552" width="10" height="12" fill="#d8dcd6" opacity="0.75"/>
<rect x="398" y="486" width="8" height="8" fill="#1e2a24" opacity="0.75"/>
<rect x="316" y="555" width="8" height="8" fill="#3a5a48" opacity="0.75"/>
<rect x="899" y="584" width="10" height="20" fill="#d8dcd6" opacity="0.75"/>
<rect x="397" y="333" width="12" height="20" fill="#d8dcd6" opacity="0.75"/>
<rect x="494" y="768" width="15" height="20" fill="#8fa898" opacity="0.75"/>
<rect x="804" y="575" width="10" height="20" fill="#14301f" opacity="0.75"/>
<rect x="336" y="430" width="8" height="15" fill="#3a5a48" opacity="0.75"/>
<rect x="412" y="700" width="8" height="15" fill="#b8c4bc" opacity="0.75"/>
<rect x="834" y="751" width="25" height="10" fill="#1e2a24" opacity="0.75"/>
<rect x="894" y="612" width="8" height="20" fill="#14301f" opacity="0.75"/>
<rect x="498" y="729" width="10" height="12" fill="#14301f" opacity="0.75"/>
<rect x="140" y="823" width="8" height="8" fill="#1e2a24" opacity="0.75"/>
<rect x="619" y="417" width="10" height="20" fill="#1e2a24" opacity="0.75"/>
<rect x="221" y="668" width="20" height="10" fill="#d8dcd6" opacity="0.75"/>
<rect x="558" y="330" width="12" height="20" fill="#1e2a24" opacity="0.75"/>
<rect x="499" y="894" width="10" height="10" fill="#3a5a48" opacity="0.75"/>
<rect x="592" y="884" width="25" height="20" fill="#1e2a24" opacity="0.75"/>
<rect x="704" y="473" width="15" height="15" fill="#6f8a78" opacity="0.75"/>
<rect x="142" y="573" width="15" height="12" fill="#8fa898" opacity="0.75"/>
<rect x="369" y="456" width="25" height="15" fill="#8fa898" opacity="0.75"/>
<rect x="1004" y="922" width="15" height="15" fill="#b8c4bc" opacity="0.75"/>
<rect x="278" y="882" width="8" height="10" fill="#3a5a48" opacity="0.75"/>
<rect x="708" y="756" width="10" height="12" fill="#d8dcd6" opacity="0.75"/>
<rect x="705" y="815" width="15" height="15" fill="#1e2a24" opacity="0.75"/>
<rect x="814" y="713" width="15" height="12" fill="#14301f" opacity="0.75"/>
<rect x="896" y="482" width="15" height="12" fill="#3a5a48" opacity="0.75"/>
<rect x="741" y="611" width="25" height="12" fill="#1e2a24" opacity="0.75"/>
<rect x="350" y="503" width="15" height="15" fill="#3a5a48" opacity="0.75"/>
<rect x="691" y="372" width="12" height="10" fill="#1e2a24" opacity="0.75"/>
<rect x="899" y="355" width="20" height="12" fill="#14301f" opacity="0.75"/>
<rect x="978" y="641" width="12" height="20" fill="#6f8a78" opacity="0.75"/>
<rect x="722" y="447" width="8" height="12" fill="#1e2a24" opacity="0.75"/>
<rect x="677" y="670" width="10" height="10" fill="#14301f" opacity="0.75"/>
<rect x="537" y="795" width="10" height="15" fill="#14301f" opacity="0.75"/>
<rect x="611" y="689" width="25" height="20" fill="#14301f" opacity="0.75"/>
<rect x="211" y="865" width="20" height="12" fill="#b8c4bc" opacity="0.75"/>
<rect x="575" y="449" width="8" height="15" fill="#d8dcd6" opacity="0.75"/>
<rect x="924" y="656" width="12" height="15" fill="#b8c4bc" opacity="0.75"/>
<rect x="874" y="606" width="20" height="8" fill="#3a5a48" opacity="0.75"/>
<rect x="550" y="407" width="15" height="10" fill="#3a5a48" opacity="0.75"/>
<rect x="278" y="683" width="25" height="8" fill="#b8c4bc" opacity="0.75"/>
<rect x="887" y="603" width="20" height="15" fill="#d8dcd6" opacity="0.75"/>
<rect x="397" y="602" width="15" height="15" fill="#d8dcd6" opacity="0.75"/>
<rect x="198" y="705" width="25" height="8" fill="#6f8a78" opacity="0.75"/>
<rect x="679" y="733" width="12" height="8" fill="#8fa898" opacity="0.75"/>
<rect x="566" y="778" width="10" height="8" fill="#b8c4bc" opacity="0.75"/>
<rect x="776" y="698" width="12" height="8" fill="#14301f" opacity="0.75"/>
<rect x="723" y="526" width="20" height="20" fill="#14301f" opacity="0.75"/>
<rect x="951" y="492" width="12" height="15" fill="#1e2a24" opacity="0.75"/>
<rect x="629" y="820" width="12" height="12" fill="#14301f" opacity="0.75"/>
<rect x="574" y="522" width="12" height="20" fill="#1e2a24" opacity="0.75"/>
<rect x="1007" y="716" width="8" height="12" fill="#b8c4bc" opacity="0.75"/>
<rect x="415" y="501" width="20" height="8" fill="#14301f" opacity="0.75"/>
<rect x="1027" y="561" width="20" height="15" fill="#8fa898" opacity="0.75"/>
<rect x="647" y="561" width="8" height="8" fill="#6f8a78" opacity="0.75"/>
<rect x="301" y="877" width="20" height="8" fill="#14301f" opacity="0.75"/>
<rect x="581" y="649" width="15" height="20" fill="#b8c4bc" opacity="0.75"/>
<rect x="694" y="741" width="20" height="8" fill="#b8c4bc" opacity="0.75"/>
<rect x="166" y="703" width="25" height="10" fill="#6f8a78" opacity="0.75"/>
<rect x="727" y="846" width="15" height="8" fill="#d8dcd6" opacity="0.75"/>
<rect x="142" y="848" width="10" height="12" fill="#8fa898" opacity="0.75"/>
<rect x="769" y="842" width="10" height="15" fill="#6f8a78" opacity="0.75"/>
<rect x="417" y="581" width="25" height="20" fill="#6f8a78" opacity="0.75"/>
<rect x="578" y="636" width="8" height="15" fill="#8fa898" opacity="0.75"/>
<rect x="756" y="565" width="8" height="8" fill="#d8dcd6" opacity="0.75"/>
<rect x="478" y="678" width="25" height="10" fill="#3a5a48" opacity="0.75"/>
<rect x="823" y="652" width="8" height="15" fill="#b8c4bc" opacity="0.75"/>
<rect x="936" y="699" width="15" height="8" fill="#6f8a78" opacity="0.75"/>
<rect x="745" y="394" width="8" height="10" fill="#14301f" opacity="0.75"/>
<rect x="239" y="606" width="12" height="20" fill="#b8c4bc" opacity="0.75"/>
<rect x="536" y="770" width="8" height="12" fill="#14301f" opacity="0.75"/>
<rect x="803" y="740" width="10" height="8" fill="#1e2a24" opacity="0.75"/>
<rect x="696" y="749" width="15" height="12" fill="#6f8a78" opacity="0.75"/>
<rect x="775" y="327" width="8" height="20" fill="#6f8a78" opacity="0.75"/>
<rect x="480" y="509" width="20" height="10" fill="#14301f" opacity="0.75"/>
<rect x="881" y="688" width="12" height="12" fill="#8fa898" opacity="0.75"/>
<rect x="785" y="604" width="10" height="10" fill="#14301f" opacity="0.75"/>
<rect x="235" y="897" width="10" height="15" fill="#3a5a48" opacity="0.75"/>
<rect x="477" y="796" width="12" height="20" fill="#1e2a24" opacity="0.75"/>
<rect x="393" y="357" width="25" height="20" fill="#1e2a24" opacity="0.75"/>
<rect x="913" y="759" width="8" height="10" fill="#8fa898" opacity="0.75"/>
<rect x="879" y="674" width="10" height="15" fill="#3a5a48" opacity="0.75"/>
<rect x="746" y="684" width="10" height="15" fill="#1e2a24" opacity="0.75"/>
<rect x="750" y="515" width="12" height="15" fill="#b8c4bc" opacity="0.75"/>
<rect x="658" y="814" width="8" height="12" fill="#14301f" opacity="0.75"/>
<rect x="257" y="859" width="20" height="10" fill="#1e2a24" opacity="0.75"/>
<rect x="1008" y="802" width="20" height="15" fill="#1e2a24" opacity="0.75"/>
<rect x="611" y="647" width="15" height="15" fill="#b8c4bc" opacity="0.75"/>
<rect x="839" y="757" width="10" height="12" fill="#8fa898" opacity="0.75"/>
<rect x="182" y="559" width="25" height="10" fill="#1e2a24" opacity="0.75"/>
<rect x="658" y="326" width="15" height="15" fill="#8fa898" opacity="0.75"/>
<rect x="209" y="808" width="8" height="10" fill="#3a5a48" opacity="0.75"/>
<rect x="652" y="863" width="20" height="12" fill="#3a5a48" opacity="0.75"/>
<rect x="586" y="442" width="10" height="10" fill="#6f8a78" opacity="0.75"/>
<rect x="293" y="744" width="12" height="20" fill="#8fa898" opacity="0.75"/>
<rect x="453" y="792" width="10" height="10" fill="#6f8a78" opacity="0.75"/>
<rect x="960" y="618" width="8" height="12" fill="#d8dcd6" opacity="0.75"/>
<rect x="547" y="369" width="12" height="20" fill="#6f8a78" opacity="0.75"/>
<rect x="440" y="634" width="8" height="8" fill="#6f8a78" opacity="0.75"/>
<rect x="314" y="847" width="20" height="15" fill="#8fa898" opacity="0.75"/>
<rect x="640" y="478" width="12" height="15" fill="#6f8a78" opacity="0.75"/>
<rect x="982" y="784" width="20" height="10" fill="#1e2a24" opacity="0.75"/>
<rect x="889" y="525" width="10" height="15" fill="#6f8a78" opacity="0.75"/>
<rect x="155" y="341" width="12" height="15" fill="#3a5a48" opacity="0.75"/>
<rect x="982" y="871" width="8" height="20" fill="#d8dcd6" opacity="0.75"/>
<rect x="488" y="393" width="8" height="12" fill="#1e2a24" opacity="0.75"/>
<rect x="638" y="708" width="25" height="20" fill="#3a5a48" opacity="0.75"/>
<rect x="294" y="834" width="12" height="10" fill="#d8dcd6" opacity="0.75"/>
<rect x="330" y="343" width="12" height="12" fill="#6f8a78" opacity="0.75"/>
<rect x="942" y="867" width="8" height="12" fill="#14301f" opacity="0.75"/>
<rect x="592" y="767" width="15" height="8" fill="#6f8a78" opacity="0.75"/>
<rect x="260" y="777" width="10" height="12" fill="#8fa898" opacity="0.75"/>
<rect x="662" y="779" width="8" height="15" fill="#1e2a24" opacity="0.75"/>
<rect x="465" y="556" width="12" height="15" fill="#3a5a48" opacity="0.75"/>
<rect x="282" y="464" width="10" height="8" fill="#3a5a48" opacity="0.75"/>
<rect x="776" y="438" width="8" height="10" fill="#14301f" opacity="0.75"/>
<rect x="328" y="885" width="12" height="10" fill="#14301f" opacity="0.75"/>
<rect x="533" y="379" width="15" height="8" fill="#d8dcd6" opacity="0.75"/>
<rect x="198" y="908" width="12" height="10" fill="#3a5a48" opacity="0.75"/>
<rect x="234" y="541" width="12" height="10" fill="#d8dcd6" opacity="0.75"/>
<rect x="181" y="752" width="20" height="10" fill="#3a5a48" opacity="0.75"/>
<rect x="914" y="481" width="15" height="10" fill="#b8c4bc" opacity="0.75"/>
<rect x="153" y="665" width="12" height="12" fill="#14301f" opacity="0.75"/>
<rect x="281" y="617" width="12" height="15" fill="#3a5a48" opacity="0.75"/>
<rect x="233" y="912" width="8" height="10" fill="#8fa898" opacity="0.75"/>
<rect x="560" y="493" width="12" height="10" fill="#1e2a24" opacity="0.75"/>
<rect x="519" y="478" width="10" height="10" fill="#6f8a78" opacity="0.75"/>
<rect x="481" y="571" width="10" height="8" fill="#14301f" opacity="0.75"/>
<rect x="784" y="498" width="25" height="8" fill="#3a5a48" opacity="0.75"/>
<rect x="856" y="526" width="10" height="15" fill="#6f8a78" opacity="0.75"/>
<rect x="841" y="891" width="12" height="10" fill="#1e2a24" opacity="0.75"/>
<rect x="522" y="872" width="10" height="12" fill="#8fa898" opacity="0.75"/>
<rect x="293" y="830" width="20" height="10" fill="#d8dcd6" opacity="0.75"/>
<rect x="288" y="683" width="8" height="20" fill="#d8dcd6" opacity="0.75"/>
<rect x="576" y="486" width="10" height="10" fill="#8fa898" opacity="0.75"/>
<rect x="733" y="700" width="10" height="20" fill="#1e2a24" opacity="0.75"/>
<rect x="312" y="360" width="25" height="20" fill="#3a5a48" opacity="0.75"/>
<rect x="887" y="874" width="20" height="12" fill="#1e2a24" opacity="0.75"/>
<rect x="384" y="707" width="15" height="8" fill="#6f8a78" opacity="0.75"/>
<rect x="499" y="782" width="10" height="12" fill="#b8c4bc" opacity="0.75"/>
<rect x="297" y="823" width="12" height="8" fill="#b8c4bc" opacity="0.75"/>
<rect x="762" y="668" width="8" height="12" fill="#8fa898" opacity="0.75"/>
<rect x="969" y="906" width="8" height="8" fill="#1e2a24" opacity="0.75"/>
<rect x="773" y="814" width="12" height="15" fill="#8fa898" opacity="0.75"/>
<rect x="806" y="357" width="8" height="15" fill="#3a5a48" opacity="0.75"/>
<rect x="592" y="641" width="20" height="10" fill="#6f8a78" opacity="0.75"/>
<rect x="349" y="374" width="20" height="10" fill="#b8c4bc" opacity="0.75"/>
<rect x="222" y="472" width="8" height="8" fill="#6f8a78" opacity="0.75"/>
<rect x="964" y="767" width="12" height="8" fill="#14301f" opacity="0.75"/>
<rect x="669" y="669" width="20" height="10" fill="#d8dcd6" opacity="0.75"/>
<rect x="530" y="532" width="8" height="10" fill="#6f8a78" opacity="0.75"/>
<rect x="376" y="601" width="20" height="20" fill="#14301f" opacity="0.75"/>
<rect x="382" y="394" width="15" height="10" fill="#8fa898" opacity="0.75"/>
<rect x="663" y="841" width="10" height="20" fill="#3a5a48" opacity="0.75"/>
<rect x="802" y="419" width="8" height="15" fill="#d8dcd6" opacity="0.75"/>
<rect x="508" y="828" width="20" height="8" fill="#3a5a48" opacity="0.75"/>
<rect x="1003" y="351" width="12" height="12" fill="#3a5a48" opacity="0.75"/>
<rect x="346" y="523" width="15" height="20" fill="#14301f" opacity="0.75"/>
<rect x="1017" y="514" width="15" height="20" fill="#6f8a78" opacity="0.75"/>
<rect x="422" y="409" width="25" height="12" fill="#b8c4bc" opacity="0.75"/>
<rect x="913" y="721" width="8" height="12" fill="#6f8a78" opacity="0.75"/>
<rect x="608" y="362" width="15" height="10" fill="#8fa898" opacity="0.75"/>
<rect x="732" y="456" width="15" height="15" fill="#14301f" opacity="0.75"/>
<rect x="1028" y="595" width="8" height="8" fill="#6f8a78" opacity="0.75"/>
<rect x="909" y="696" width="25" height="20" fill="#1e2a24" opacity="0.75"/>
<rect x="695" y="808" width="8" height="20" fill="#6f8a78" opacity="0.75"/>
<rect x="356" y="635" width="15" height="10" fill="#6f8a78" opacity="0.75"/>
<rect x="389" y="505" width="25" height="10" fill="#6f8a78" opacity="0.75"/>
<rect x="184" y="900" width="20" height="12" fill="#6f8a78" opacity="0.75"/>
<rect x="550" y="643" width="10" height="15" fill="#6f8a78" opacity="0.75"/>
<rect x="590" y="856" width="15" height="20" fill="#1e2a24" opacity="0.75"/>
<rect x="377" y="765" width="25" height="20" fill="#1e2a24" opacity="0.75"/>
<rect x="886" y="689" width="20" height="10" fill="#d8dcd6" opacity="0.75"/>
<rect x="478" y="652" width="12" height="15" fill="#8fa898" opacity="0.75"/>
<rect x="403" y="609" width="12" height="8" fill="#b8c4bc" opacity="0.75"/>
<rect x="430" y="434" width="20" height="15" fill="#8fa898" opacity="0.75"/>
<rect x="487" y="879" width="10" height="10" fill="#1e2a24" opacity="0.75"/>
<rect x="631" y="617" width="12" height="10" fill="#1e2a24" opacity="0.75"/>
<rect x="181" y="333" width="20" height="8" fill="#8fa898" opacity="0.75"/>
<rect x="914" y="586" width="8" height="20" fill="#3a5a48" opacity="0.75"/>
<rect x="881" y="534" width="8" height="20" fill="#b8c4bc" opacity="0.75"/>
<rect x="1020" y="730" width="10" height="15" fill="#1e2a24" opacity="0.75"/>
<rect x="731" y="405" width="10" height="20" fill="#8fa898" opacity="0.75"/>
<rect x="895" y="817" width="20" height="8" fill="#d8dcd6" opacity="0.75"/>
<rect x="901" y="878" width="15" height="12" fill="#14301f" opacity="0.75"/>
<rect x="698" y="702" width="25" height="10" fill="#3a5a48" opacity="0.75"/>
<rect x="914" y="323" width="20" height="20" fill="#6f8a78" opacity="0.75"/>
<rect x="578" y="902" width="20" height="10" fill="#3a5a48" opacity="0.75"/>
<rect x="895" y="489" width="20" height="20" fill="#6f8a78" opacity="0.75"/>
<rect x="472" y="594" width="15" height="12" fill="#d8dcd6" opacity="0.75"/>
<rect x="447" y="534" width="20" height="20" fill="#8fa898" opacity="0.75"/>
<rect x="476" y="515" width="25" height="15" fill="#3a5a48" opacity="0.75"/>
<rect x="530" y="431" width="12" height="10" fill="#3a5a48" opacity="0.75"/>
<rect x="648" y="672" width="8" height="12" fill="#1e2a24" opacity="0.75"/>
<rect x="1002" y="688" width="10" height="12" fill="#b8c4bc" opacity="0.75"/>
<rect x="1005" y="859" width="8" height="8" fill="#6f8a78" opacity="0.75"/>
<rect x="361" y="862" width="12" height="20" fill="#14301f" opacity="0.75"/>
<rect x="411" y="695" width="15" height="20" fill="#14301f" opacity="0.75"/>
<rect x="596" y="735" width="15" height="15" fill="#1e2a24" opacity="0.75"/>
<rect x="167" y="729" width="15" height="8" fill="#d8dcd6" opacity="0.75"/>
<rect x="191" y="459" width="15" height="12" fill="#8fa898" opacity="0.75"/>
<rect x="491" y="660" width="20" height="10" fill="#b8c4bc" opacity="0.75"/>
<rect x="998" y="614" width="15" height="20" fill="#8fa898" opacity="0.75"/>
<rect x="439" y="641" width="8" height="10" fill="#1e2a24" opacity="0.75"/>
<rect x="416" y="912" width="12" height="20" fill="#b8c4bc" opacity="0.75"/>
<rect x="229" y="861" width="25" height="12" fill="#14301f" opacity="0.75"/>
<rect x="972" y="628" width="15" height="10" fill="#8fa898" opacity="0.75"/>
<rect x="391" y="630" width="20" height="10" fill="#3a5a48" opacity="0.75"/>
<rect x="294" y="701" width="20" height="8" fill="#1e2a24" opacity="0.75"/>
<rect x="643" y="702" width="25" height="8" fill="#d8dcd6" opacity="0.75"/>
<rect x="500" y="797" width="12" height="20" fill="#6f8a78" opacity="0.75"/>
<rect x="955" y="561" width="8" height="20" fill="#6f8a78" opacity="0.75"/>
<rect x="731" y="439" width="15" height="20" fill="#8fa898" opacity="0.75"/>
<rect x="369" y="711" width="20" height="20" fill="#b8c4bc" opacity="0.75"/>
<rect x="647" y="569" width="8" height="10" fill="#b8c4bc" opacity="0.75"/>
<rect x="597" y="628" width="8" height="8" fill="#6f8a78" opacity="0.75"/>
<rect x="283" y="636" width="15" height="20" fill="#3a5a48" opacity="0.75"/>
<rect x="856" y="358" width="8" height="20" fill="#1e2a24" opacity="0.75"/>
<rect x="260" y="464" width="12" height="10" fill="#6f8a78" opacity="0.75"/>
<rect x="370" y="380" width="20" height="8" fill="#1e2a24" opacity="0.75"/>
<rect x="302" y="698" width="8" height="8" fill="#b8c4bc" opacity="0.75"/>
<rect x="931" y="673" width="8" height="15" fill="#6f8a78" opacity="0.75"/>
<rect x="688" y="471" width="8" height="10" fill="#8fa898" opacity="0.75"/>
<rect x="899" y="510" width="15" height="12" fill="#3a5a48" opacity="0.75"/>
<rect x="672" y="901" width="15" height="8" fill="#b8c4bc" opacity="0.75"/>
<rect x="740" y="728" width="20" height="10" fill="#3a5a48" opacity="0.75"/>
<rect x="408" y="850" width="15" height="8" fill="#14301f" opacity="0.75"/>
<rect x="911" y="373" width="10" height="12" fill="#3a5a48" opacity="0.75"/>
<rect x="298" y="908" width="12" height="15" fill="#8fa898" opacity="0.75"/>
<rect x="457" y="523" width="15" height="12" fill="#3a5a48" opacity="0.75"/>
<rect x="716" y="902" width="15" height="12" fill="#8fa898" opacity="0.75"/>
<rect x="350" y="436" width="12" height="12" fill="#b8c4bc" opacity="0.75"/>
<rect x="522" y="489" width="8" height="12" fill="#14301f" opacity="0.75"/>
<rect x="270" y="747" width="8" height="10" fill="#1e2a24" opacity="0.75"/>
<rect x="620" y="796" width="20" height="15" fill="#3a5a48" opacity="0.75"/>
<rect x="883" y="807" width="10" height="12" fill="#1e2a24" opacity="0.75"/>
<rect x="325" y="565" width="25" height="20" fill="#b8c4bc" opacity="0.75"/>
<rect x="398" y="608" width="10" height="10" fill="#14301f" opacity="0.75"/>
<rect x="537" y="399" width="25" height="12" fill="#8fa898" opacity="0.75"/>
<rect x="940" y="675" width="12" height="20" fill="#b8c4bc" opacity="0.75"/>
<rect x="494" y="629" width="10" height="8" fill="#d8dcd6" opacity="0.75"/>
<rect x="592" y="648" width="12" height="15" fill="#6f8a78" opacity="0.75"/>
<rect x="722" y="663" width="12" height="8" fill="#3a5a48" opacity="0.75"/>
<rect x="770" y="740" width="10" height="12" fill="#b8c4bc" opacity="0.75"/>
<rect x="726" y="386" width="20" height="12" fill="#14301f" opacity="0.75"/>
<rect x="580" y="500" width="8" height="12" fill="#6f8a78" opacity="0.75"/>
<rect x="334" y="396" width="25" height="15" fill="#1e2a24" opacity="0.75"/>
<rect x="450" y="831" width="15" height="10" fill="#1e2a24" opacity="0.75"/>
<rect x="289" y="542" width="25" height="12" fill="#3a5a48" opacity="0.75"/>
<rect x="153" y="746" width="15" height="10" fill="#14301f" opacity="0.75"/>
<rect x="490" y="868" width="8" height="10" fill="#1e2a24" opacity="0.75"/>
<rect x="234" y="872" width="25" height="10" fill="#d8dcd6" opacity="0.75"/>
<rect x="740" y="565" width="20" height="10" fill="#3a5a48" opacity="0.75"/>
<rect x="308" y="503" width="15" height="8" fill="#8fa898" opacity="0.75"/>
<rect x="410" y="706" width="10" height="20" fill="#14301f" opacity="0.75"/>
<rect x="335" y="621" width="20" height="12" fill="#3a5a48" opacity="0.75"/>
<rect x="733" y="668" width="8" height="8" fill="#14301f" opacity="0.75"/>
<rect x="817" y="717" width="8" height="20" fill="#8fa898" opacity="0.75"/>
<rect x="756" y="909" width="25" height="8" fill="#6f8a78" opacity="0.75"/>
<rect x="842" y="447" width="12" height="8" fill="#3a5a48" opacity="0.75"/>
<rect x="755" y="558" width="25" height="20" fill="#14301f" opacity="0.75"/>
<rect x="329" y="639" width="12" height="15" fill="#3a5a48" opacity="0.75"/>
<rect x="967" y="738" width="25" height="15" fill="#8fa898" opacity="0.75"/>
<rect x="179" y="742" width="15" height="20" fill="#14301f" opacity="0.75"/>
<rect x="965" y="397" width="10" height="8" fill="#d8dcd6" opacity="0.75"/>
<rect x="873" y="658" width="10" height="20" fill="#b8c4bc" opacity="0.75"/>
<rect x="1002" y="706" width="20" height="12" fill="#b8c4bc" opacity="0.75"/>
<rect x="997" y="422" width="12" height="15" fill="#6f8a78" opacity="0.75"/>
<rect x="311" y="508" width="10" height="15" fill="#d8dcd6" opacity="0.75"/>
<rect x="565" y="747" width="8" height="20" fill="#d8dcd6" opacity="0.75"/>
<rect x="531" y="886" width="12" height="12" fill="#b8c4bc" opacity="0.75"/>
<rect x="926" y="406" width="20" height="10" fill="#1e2a24" opacity="0.75"/>
<rect x="696" y="391" width="15" height="10" fill="#d8dcd6" opacity="0.75"/>
<rect x="730" y="682" width="15" height="15" fill="#14301f" opacity="0.75"/>
<rect x="316" y="738" width="8" height="12" fill="#3a5a48" opacity="0.75"/>
<rect x="316" y="357" width="12" height="12" fill="#b8c4bc" opacity="0.75"/>
<rect x="230" y="507" width="8" height="10" fill="#1e2a24" opacity="0.75"/>
<rect x="531" y="664" width="12" height="10" fill="#8fa898" opacity="0.75"/>
<rect x="195" y="327" width="15" height="8" fill="#d8dcd6" opacity="0.75"/>
<rect x="775" y="913" width="20" height="12" fill="#6f8a78" opacity="0.75"/>
<rect x="711" y="899" width="15" height="10" fill="#14301f" opacity="0.75"/>
<rect x="619" y="325" width="8" height="12" fill="#d8dcd6" opacity="0.75"/>
<rect x="682" y="762" width="25" height="12" fill="#d8dcd6" opacity="0.75"/>
<rect x="351" y="404" width="8" height="8" fill="#14301f" opacity="0.75"/>
<rect x="486" y="408" width="12" height="10" fill="#d8dcd6" opacity="0.75"/>
<rect x="603" y="862" width="25" height="10" fill="#6f8a78" opacity="0.75"/>
<rect x="836" y="822" width="25" height="20" fill="#1e2a24" opacity="0.75"/>
<rect x="471" y="712" width="12" height="12" fill="#b8c4bc" opacity="0.75"/>
<rect x="462" y="653" width="12" height="12" fill="#b8c4bc" opacity="0.75"/>
<rect x="182" y="385" width="25" height="15" fill="#6f8a78" opacity="0.75"/>
<rect x="980" y="619" width="15" height="10" fill="#1e2a24" opacity="0.75"/>
<rect x="672" y="699" width="10" height="10" fill="#b8c4bc" opacity="0.75"/>
<rect x="254" y="705" width="15" height="8" fill="#6f8a78" opacity="0.75"/>
<rect x="896" y="610" width="10" height="12" fill="#6f8a78" opacity="0.75"/>
<rect x="159" y="689" width="20" height="15" fill="#b8c4bc" opacity="0.75"/>
<rect x="385" y="720" width="20" height="15" fill="#1e2a24" opacity="0.75"/>
<rect x="186" y="325" width="10" height="10" fill="#3a5a48" opacity="0.75"/>
<rect x="396" y="588" width="20" height="12" fill="#8fa898" opacity="0.75"/>
<rect x="306" y="371" width="12" height="20" fill="#3a5a48" opacity="0.75"/>
<rect x="516" y="643" width="25" height="10" fill="#3a5a48" opacity="0.75"/>
<rect x="996" y="695" width="8" height="12" fill="#8fa898" opacity="0.75"/>
<rect x="723" y="662" width="15" height="12" fill="#3a5a48" opacity="0.75"/>
<rect x="721" y="403" width="12" height="20" fill="#d8dcd6" opacity="0.75"/>
<rect x="155" y="434" width="25" height="15" fill="#d8dcd6" opacity="0.75"/>
<rect x="207" y="720" width="12" height="20" fill="#8fa898" opacity="0.75"/>
<rect x="979" y="538" width="10" height="20" fill="#3a5a48" opacity="0.75"/>
<rect x="487" y="389" width="10" height="10" fill="#8fa898" opacity="0.75"/>
<rect x="805" y="454" width="12" height="8" fill="#b8c4bc" opacity="0.75"/>
<rect x="608" y="472" width="15" height="10" fill="#8fa898" opacity="0.75"/>
<rect x="542" y="647" width="25" height="8" fill="#d8dcd6" opacity="0.75"/>
<rect x="592" y="676" width="8" height="15" fill="#d8dcd6" opacity="0.75"/>
<rect x="196" y="586" width="20" height="20" fill="#8fa898" opacity="0.75"/>
<rect x="773" y="778" width="8" height="20" fill="#6f8a78" opacity="0.75"/>
<rect x="544" y="735" width="20" height="10" fill="#b8c4bc" opacity="0.75"/>
<rect x="637" y="789" width="10" height="12" fill="#14301f" opacity="0.75"/>
<rect x="687" y="565" width="8" height="12" fill="#6f8a78" opacity="0.75"/>
<rect x="144" y="680" width="10" height="15" fill="#1e2a24" opacity="0.75"/>
<rect x="238" y="402" width="8" height="20" fill="#14301f" opacity="0.75"/>
<rect x="311" y="389" width="25" height="12" fill="#b8c4bc" opacity="0.75"/>
<rect x="460" y="829" width="25" height="8" fill="#14301f" opacity="0.75"/>
<rect x="360" y="465" width="20" height="20" fill="#1e2a24" opacity="0.75"/>
<rect x="780" y="346" width="20" height="12" fill="#6f8a78" opacity="0.75"/>
<rect x="450" y="518" width="20" height="8" fill="#6f8a78" opacity="0.75"/>
<rect x="963" y="729" width="12" height="12" fill="#b8c4bc" opacity="0.75"/>
<rect x="755" y="333" width="20" height="15" fill="#6f8a78" opacity="0.75"/>
<rect x="842" y="615" width="8" height="12" fill="#b8c4bc" opacity="0.75"/>
<rect x="265" y="883" width="25" height="15" fill="#14301f" opacity="0.75"/>
<rect x="260" y="850" width="20" height="12" fill="#3a5a48" opacity="0.75"/>
<rect x="142" y="527" width="10" height="15" fill="#8fa898" opacity="0.75"/>
<rect x="566" y="339" width="8" height="8" fill="#b8c4bc" opacity="0.75"/>
<rect x="688" y="710" width="20" height="15" fill="#14301f" opacity="0.75"/>
<rect x="558" y="416" width="15" height="15" fill="#b8c4bc" opacity="0.75"/>
<rect x="916" y="690" width="8" height="12" fill="#1e2a24" opacity="0.75"/>
<rect x="605" y="508" width="10" height="20" fill="#8fa898" opacity="0.75"/>
<rect x="169" y="423" width="12" height="15" fill="#1e2a24" opacity="0.75"/>
<rect x="649" y="555" width="12" height="12" fill="#6f8a78" opacity="0.75"/>
<rect x="432" y="612" width="10" height="8" fill="#b8c4bc" opacity="0.75"/>
<rect x="543" y="917" width="8" height="10" fill="#d8dcd6" opacity="0.75"/>
<rect x="734" y="485" width="12" height="8" fill="#8fa898" opacity="0.75"/>
<rect x="1022" y="536" width="20" height="20" fill="#8fa898" opacity="0.75"/>
<rect x="991" y="920" width="8" height="20" fill="#14301f" opacity="0.75"/>
<rect x="216" y="441" width="15" height="20" fill="#d8dcd6" opacity="0.75"/>
<rect x="219" y="799" width="10" height="10" fill="#d8dcd6" opacity="0.75"/>
<rect x="195" y="903" width="12" height="12" fill="#8fa898" opacity="0.75"/>
<rect x="898" y="468" width="20" height="15" fill="#1e2a24" opacity="0.75"/>
<rect x="184" y="524" width="12" height="15" fill="#8fa898" opacity="0.75"/>
<rect x="461" y="467" width="10" height="12" fill="#b8c4bc" opacity="0.75"/>
<rect x="252" y="324" width="25" height="15" fill="#3a5a48" opacity="0.75"/>
<rect x="531" y="664" width="12" height="10" fill="#8fa898" opacity="0.75"/>
<rect x="190" y="502" width="12" height="12" fill="#d8dcd6" opacity="0.75"/>
<rect x="645" y="719" width="12" height="8" fill="#b8c4bc" opacity="0.75"/>
<rect x="655" y="368" width="10" height="12" fill="#8fa898" opacity="0.75"/>
<rect x="448" y="603" width="25" height="15" fill="#d8dcd6" opacity="0.75"/>
<rect x="911" y="361" width="15" height="12" fill="#b8c4bc" opacity="0.75"/>
<rect x="378" y="476" width="8" height="10" fill="#d8dcd6" opacity="0.75"/>
<rect x="371" y="746" width="10" height="8" fill="#3a5a48" opacity="0.75"/>
<rect x="533" y="860" width="12" height="20" fill="#d8dcd6" opacity="0.75"/>
<rect x="220" y="466" width="8" height="10" fill="#8fa898" opacity="0.75"/>
<rect x="174" y="364" width="20" height="12" fill="#d8dcd6" opacity="0.75"/>
<rect x="253" y="434" width="20" height="8" fill="#d8dcd6" opacity="0.75"/>
<rect x="421" y="337" width="12" height="12" fill="#14301f" opacity="0.75"/>
<rect x="804" y="713" width="15" height="20" fill="#d8dcd6" opacity="0.75"/>
<rect x="850" y="426" width="15" height="8" fill="#6f8a78" opacity="0.75"/>
<rect x="694" y="522" width="15" height="20" fill="#3a5a48" opacity="0.75"/>
<rect x="361" y="600" width="8" height="8" fill="#1e2a24" opacity="0.75"/>
<rect x="638" y="917" width="8" height="15" fill="#8fa898" opacity="0.75"/>
<rect x="769" y="825" width="10" height="8" fill="#6f8a78" opacity="0.75"/>
<rect x="271" y="406" width="8" height="12" fill="#14301f" opacity="0.75"/>
<rect x="456" y="528" width="25" height="20" fill="#14301f" opacity="0.75"/>
<rect x="629" y="718" width="20" height="20" fill="#1e2a24" opacity="0.75"/>
<rect x="337" y="694" width="25" height="15" fill="#14301f" opacity="0.75"/>
<rect x="158" y="712" width="25" height="20" fill="#d8dcd6" opacity="0.75"/>
<rect x="538" y="488" width="20" height="20" fill="#1e2a24" opacity="0.75"/>
<rect x="249" y="325" width="15" height="8" fill="#d8dcd6" opacity="0.75"/>
<rect x="858" y="911" width="10" height="10" fill="#3a5a48" opacity="0.75"/>
<rect x="811" y="374" width="8" height="20" fill="#b8c4bc" opacity="0.75"/>
<rect x="240" y="649" width="10" height="20" fill="#14301f" opacity="0.75"/>
<rect x="294" y="889" width="12" height="10" fill="#b8c4bc" opacity="0.75"/>
<rect x="914" y="838" width="10" height="20" fill="#6f8a78" opacity="0.75"/>
<rect x="446" y="749" width="15" height="15" fill="#b8c4bc" opacity="0.75"/>
<rect x="703" y="528" width="15" height="15" fill="#b8c4bc" opacity="0.75"/>
<rect x="421" y="867" width="8" height="8" fill="#6f8a78" opacity="0.75"/>
<rect x="856" y="873" width="25" height="12" fill="#6f8a78" opacity="0.75"/>
<rect x="335" y="547" width="15" height="10" fill="#6f8a78" opacity="0.75"/>
<rect x="357" y="479" width="15" height="10" fill="#b8c4bc" opacity="0.75"/>
<rect x="449" y="517" width="15" height="12" fill="#1e2a24" opacity="0.75"/>
<rect x="921" y="622" width="20" height="10" fill="#3a5a48" opacity="0.75"/>
<rect x="907" y="846" width="12" height="10" fill="#14301f" opacity="0.75"/>
<rect x="400" y="374" width="8" height="15" fill="#14301f" opacity="0.75"/>
<rect x="932" y="418" width="25" height="20" fill="#8fa898" opacity="0.75"/>
<rect x="991" y="448" width="8" height="10" fill="#14301f" opacity="0.75"/>
<rect x="925" y="538" width="15" height="10" fill="#3a5a48" opacity="0.75"/>
<rect x="908" y="922" width="12" height="8" fill="#14301f" opacity="0.75"/>
<rect x="230" y="909" width="8" height="10" fill="#1e2a24" opacity="0.75"/>
<rect x="266" y="765" width="8" height="10" fill="#3a5a48" opacity="0.75"/>
<rect x="744" y="375" width="12" height="15" fill="#1e2a24" opacity="0.75"/>
<rect x="1012" y="340" width="10" height="10" fill="#14301f" opacity="0.75"/>
<rect x="695" y="329" width="10" height="20" fill="#8fa898" opacity="0.75"/>
<rect x="338" y="580" width="8" height="8" fill="#6f8a78" opacity="0.75"/>
<rect x="1022" y="511" width="8" height="8" fill="#3a5a48" opacity="0.75"/>
<rect x="1004" y="638" width="8" height="10" fill="#b8c4bc" opacity="0.75"/>
<rect x="747" y="410" width="25" height="20" fill="#8fa898" opacity="0.75"/>
<rect x="1024" y="641" width="15" height="8" fill="#1e2a24" opacity="0.75"/>
<rect x="1003" y="836" width="10" height="8" fill="#1e2a24" opacity="0.75"/>
<rect x="763" y="329" width="12" height="8" fill="#6f8a78" opacity="0.75"/>
<rect x="307" y="349" width="20" height="12" fill="#1e2a24" opacity="0.75"/>
<rect x="140" y="736" width="25" height="15" fill="#8fa898" opacity="0.75"/>
<rect x="384" y="520" width="15" height="12" fill="#3a5a48" opacity="0.75"/>
<rect x="510" y="647" width="15" height="10" fill="#3a5a48" opacity="0.75"/>
<rect x="815" y="853" width="10" height="8" fill="#b8c4bc" opacity="0.75"/>
<rect x="677" y="880" width="12" height="20" fill="#d8dcd6" opacity="0.75"/>
<rect x="469" y="466" width="10" height="8" fill="#6f8a78" opacity="0.75"/>
<rect x="889" y="794" width="25" height="8" fill="#3a5a48" opacity="0.75"/>
<rect x="755" y="516" width="25" height="15" fill="#8fa898" opacity="0.75"/>
<rect x="731" y="596" width="20" height="8" fill="#3a5a48" opacity="0.75"/>
<rect x="802" y="836" width="20" height="12" fill="#8fa898" opacity="0.75"/>
<rect x="622" y="550" width="25" height="15" fill="#1e2a24" opacity="0.75"/>
<rect x="771" y="558" width="20" height="12" fill="#8fa898" opacity="0.75"/>
<rect x="724" y="820" width="8" height="20" fill="#d8dcd6" opacity="0.75"/>
<rect x="331" y="691" width="12" height="12" fill="#14301f" opacity="0.75"/>
<rect x="556" y="757" width="20" height="20" fill="#3a5a48" opacity="0.75"/>
<rect x="644" y="925" width="8" height="20" fill="#1e2a24" opacity="0.75"/>
<rect x="602" y="639" width="12" height="10" fill="#d8dcd6" opacity="0.75"/>
<rect x="285" y="817" width="15" height="10" fill="#d8dcd6" opacity="0.75"/>
<rect x="983" y="838" width="25" height="8" fill="#1e2a24" opacity="0.75"/>
<rect x="473" y="823" width="15" height="8" fill="#3a5a48" opacity="0.75"/>
<rect x="268" y="472" width="8" height="12" fill="#1e2a24" opacity="0.75"/>
<rect x="727" y="636" width="12" height="15" fill="#d8dcd6" opacity="0.75"/>
<rect x="209" y="559" width="15" height="8" fill="#3a5a48" opacity="0.75"/>
<rect x="701" y="762" width="10" height="20" fill="#b8c4bc" opacity="0.75"/>
<rect x="135" y="399" width="15" height="20" fill="#d8dcd6" opacity="0.75"/>
<rect x="344" y="544" width="12" height="15" fill="#1e2a24" opacity="0.75"/>
<rect x="146" y="442" width="20" height="12" fill="#6f8a78" opacity="0.75"/>
<rect x="662" y="505" width="20" height="12" fill="#1e2a24" opacity="0.75"/>
<rect x="360" y="481" width="15" height="8" fill="#8fa898" opacity="0.75"/>
<rect x="703" y="840" width="10" height="10" fill="#3a5a48" opacity="0.75"/>
<rect x="993" y="496" width="12" height="8" fill="#d8dcd6" opacity="0.75"/>
<rect x="528" y="542" width="25" height="12" fill="#3a5a48" opacity="0.75"/>
<rect x="518" y="688" width="12" height="12" fill="#b8c4bc" opacity="0.75"/>
<rect x="477" y="670" width="20" height="10" fill="#14301f" opacity="0.75"/>
<rect x="771" y="545" width="25" height="10" fill="#1e2a24" opacity="0.75"/>
<rect x="904" y="368" width="15" height="15" fill="#3a5a48" opacity="0.75"/>
<rect x="603" y="620" width="25" height="8" fill="#6f8a78" opacity="0.75"/>
<rect x="663" y="600" width="15" height="15" fill="#3a5a48" opacity="0.75"/>
<rect x="1025" y="427" width="8" height="15" fill="#3a5a48" opacity="0.75"/>
<rect x="572" y="630" width="8" height="10" fill="#d8dcd6" opacity="0.75"/>
<rect x="310" y="648" width="25" height="12" fill="#8fa898" opacity="0.75"/>
<rect x="427" y="554" width="15" height="8" fill="#6f8a78" opacity="0.75"/>
<rect x="329" y="367" width="8" height="8" fill="#3a5a48" opacity="0.75"/>
<rect x="209" y="776" width="20" height="15" fill="#6f8a78" opacity="0.75"/>
<rect x="872" y="441" width="12" height="15" fill="#14301f" opacity="0.75"/>
<rect x="179" y="738" width="15" height="20" fill="#b8c4bc" opacity="0.75"/>
<rect x="1028" y="814" width="25" height="10" fill="#1e2a24" opacity="0.75"/>
<rect x="431" y="634" width="8" height="10" fill="#8fa898" opacity="0.75"/>
<rect x="377" y="479" width="12" height="15" fill="#1e2a24" opacity="0.75"/>
<rect x="728" y="501" width="15" height="20" fill="#3a5a48" opacity="0.75"/>
<rect x="743" y="506" width="10" height="15" fill="#14301f" opacity="0.75"/>
<rect x="522" y="646" width="12" height="10" fill="#b8c4bc" opacity="0.75"/>
<rect x="177" y="645" width="12" height="15" fill="#d8dcd6" opacity="0.75"/>
<rect x="570" y="673" width="12" height="12" fill="#b8c4bc" opacity="0.75"/>
<rect x="541" y="748" width="25" height="8" fill="#d8dcd6" opacity="0.75"/>
<rect x="413" y="643" width="15" height="20" fill="#14301f" opacity="0.75"/>
<rect x="421" y="486" width="15" height="12" fill="#b8c4bc" opacity="0.75"/>
<rect x="770" y="805" width="20" height="20" fill="#3a5a48" opacity="0.75"/>
<rect x="495" y="760" width="10" height="10" fill="#6f8a78" opacity="0.75"/>
<rect x="292" y="839" width="8" height="8" fill="#b8c4bc" opacity="0.75"/>
<rect x="906" y="364" width="20" height="15" fill="#b8c4bc" opacity="0.75"/>
<rect x="143" y="756" width="25" height="10" fill="#3a5a48" opacity="0.75"/>
<rect x="329" y="756" width="25" height="12" fill="#14301f" opacity="0.75"/>
<rect x="320" y="827" width="10" height="10" fill="#8fa898" opacity="0.75"/>
<rect x="221" y="378" width="8" height="8" fill="#3a5a48" opacity="0.75"/>
<rect x="331" y="824" width="25" height="15" fill="#d8dcd6" opacity="0.75"/>
<rect x="512" y="845" width="25" height="10" fill="#6f8a78" opacity="0.75"/>
<rect x="274" y="590" width="10" height="20" fill="#14301f" opacity="0.75"/>
<rect x="417" y="659" width="10" height="12" fill="#1e2a24" opacity="0.75"/>
<rect x="422" y="829" width="10" height="10" fill="#3a5a48" opacity="0.75"/>
<rect x="1007" y="518" width="10" height="12" fill="#b8c4bc" opacity="0.75"/>
<rect x="719" y="740" width="10" height="15" fill="#b8c4bc" opacity="0.75"/>
<rect x="785" y="580" width="25" height="15" fill="#6f8a78" opacity="0.75"/>
<rect x="165" y="533" width="25" height="10" fill="#d8dcd6" opacity="0.75"/>
<rect x="975" y="638" width="12" height="15" fill="#1e2a24" opacity="0.75"/>
<rect x="146" y="793" width="8" height="10" fill="#3a5a48" opacity="0.75"/>
<rect x="382" y="503" width="20" height="20" fill="#14301f" opacity="0.75"/>
<rect x="210" y="405" width="12" height="10" fill="#8fa898" opacity="0.75"/>
<rect x="962" y="340" width="20" height="8" fill="#6f8a78" opacity="0.75"/>
<rect x="440" y="891" width="25" height="12" fill="#6f8a78" opacity="0.75"/>
<rect x="285" y="532" width="15" height="10" fill="#1e2a24" opacity="0.75"/>
<rect x="798" y="428" width="12" height="8" fill="#d8dcd6" opacity="0.75"/>
<rect x="633" y="378" width="20" height="8" fill="#14301f" opacity="0.75"/>
<rect x="275" y="558" width="8" height="8" fill="#6f8a78" opacity="0.75"/>
<rect x="592" y="379" width="25" height="10" fill="#3a5a48" opacity="0.75"/>
<rect x="650" y="533" width="12" height="10" fill="#1e2a24" opacity="0.75"/>
<rect x="283" y="890" width="12" height="8" fill="#14301f" opacity="0.75"/>
<rect x="710" y="826" width="12" height="10" fill="#1e2a24" opacity="0.75"/>
<rect x="215" y="852" width="8" height="10" fill="#3a5a48" opacity="0.75"/>
<rect x="373" y="647" width="12" height="15" fill="#b8c4bc" opacity="0.75"/>
<rect x="278" y="644" width="20" height="12" fill="#1e2a24" opacity="0.75"/>
<rect x="984" y="492" width="20" height="10" fill="#b8c4bc" opacity="0.75"/>
<rect x="948" y="760" width="20" height="20" fill="#b8c4bc" opacity="0.75"/>
<rect x="932" y="329" width="8" height="15" fill="#14301f" opacity="0.75"/>
<rect x="842" y="665" width="25" height="10" fill="#6f8a78" opacity="0.75"/>
<rect x="805" y="413" width="12" height="8" fill="#3a5a48" opacity="0.75"/>
<rect x="484" y="633" width="12" height="20" fill="#6f8a78" opacity="0.75"/>
<rect x="206" y="670" width="10" height="10" fill="#8fa898" opacity="0.75"/>
<rect x="827" y="630" width="8" height="10" fill="#6f8a78" opacity="0.75"/>
<rect x="669" y="915" width="8" height="10" fill="#8fa898" opacity="0.75"/>
<rect x="826" y="426" width="12" height="12" fill="#6f8a78" opacity="0.75"/>
<rect x="859" y="599" width="10" height="8" fill="#1e2a24" opacity="0.75"/>
<rect x="976" y="569" width="15" height="8" fill="#6f8a78" opacity="0.75"/>
<rect x="840" y="410" width="20" height="10" fill="#b8c4bc" opacity="0.75"/>
<rect x="848" y="786" width="10" height="10" fill="#b8c4bc" opacity="0.75"/>
<rect x="747" y="749" width="8" height="8" fill="#14301f" opacity="0.75"/>
<rect x="923" y="343" width="20" height="12" fill="#6f8a78" opacity="0.75"/>
<rect x="806" y="705" width="10" height="8" fill="#14301f" opacity="0.75"/>
<rect x="459" y="569" width="25" height="12" fill="#8fa898" opacity="0.75"/>
<rect x="276" y="904" width="25" height="15" fill="#b8c4bc" opacity="0.75"/>
<rect x="363" y="740" width="12" height="8" fill="#d8dcd6" opacity="0.75"/>
<rect x="550" y="797" width="25" height="20" fill="#b8c4bc" opacity="0.75"/>
<rect x="522" y="819" width="20" height="12" fill="#d8dcd6" opacity="0.75"/>
<rect x="995" y="642" width="25" height="8" fill="#6f8a78" opacity="0.75"/>
<rect x="1002" y="796" width="12" height="10" fill="#b8c4bc" opacity="0.75"/>
<rect x="308" y="597" width="10" height="15" fill="#8fa898" opacity="0.75"/>
<rect x="947" y="735" width="25" height="8" fill="#3a5a48" opacity="0.75"/>
<rect x="727" y="559" width="25" height="12" fill="#14301f" opacity="0.75"/>
<rect x="471" y="894" width="10" height="12" fill="#d8dcd6" opacity="0.75"/>
<rect x="665" y="826" width="12" height="8" fill="#1e2a24" opacity="0.75"/>
<rect x="570" y="330" width="8" height="15" fill="#3a5a48" opacity="0.75"/>
<rect x="500" y="501" width="10" height="12" fill="#8fa898" opacity="0.75"/>
<rect x="322" y="534" width="15" height="20" fill="#6f8a78" opacity="0.75"/>
<rect x="393" y="373" width="12" height="10" fill="#d8dcd6" opacity="0.75"/>
<rect x="931" y="567" width="20" height="10" fill="#6f8a78" opacity="0.75"/>
<rect x="325" y="699" width="15" height="10" fill="#3a5a48" opacity="0.75"/>
<rect x="374" y="899" width="12" height="10" fill="#b8c4bc" opacity="0.75"/>
<rect x="446" y="814" width="15" height="12" fill="#3a5a48" opacity="0.75"/>
<rect x="417" y="850" width="20" height="10" fill="#14301f" opacity="0.75"/>
<rect x="878" y="418" width="20" height="8" fill="#6f8a78" opacity="0.75"/>
<rect x="898" y="383" width="10" height="15" fill="#8fa898" opacity="0.75"/>
<rect x="858" y="472" width="12" height="8" fill="#8fa898" opacity="0.75"/>
<rect x="791" y="776" width="25" height="15" fill="#b8c4bc" opacity="0.75"/>
<rect x="966" y="861" width="25" height="15" fill="#6f8a78" opacity="0.75"/>
<rect x="593" y="520" width="12" height="12" fill="#1e2a24" opacity="0.75"/>
<rect x="405" y="749" width="25" height="15" fill="#8fa898" opacity="0.75"/>
<rect x="858" y="356" width="25" height="15" fill="#3a5a48" opacity="0.75"/>
<rect x="457" y="911" width="8" height="8" fill="#8fa898" opacity="0.75"/>
<rect x="469" y="508" width="20" height="10" fill="#d8dcd6" opacity="0.75"/>
<rect x="676" y="598" width="12" height="15" fill="#b8c4bc" opacity="0.75"/>
<rect x="136" y="887" width="12" height="10" fill="#b8c4bc" opacity="0.75"/>
<rect x="659" y="669" width="8" height="15" fill="#b8c4bc" opacity="0.75"/>
<rect x="803" y="708" width="12" height="10" fill="#1e2a24" opacity="0.75"/>
<rect x="826" y="336" width="20" height="15" fill="#d8dcd6" opacity="0.75"/>
<rect x="206" y="895" width="25" height="15" fill="#3a5a48" opacity="0.75"/>
<rect x="997" y="749" width="25" height="12" fill="#1e2a24" opacity="0.75"/>
<rect x="276" y="668" width="8" height="20" fill="#1e2a24" opacity="0.75"/>
<rect x="934" y="441" width="8" height="10" fill="#1e2a24" opacity="0.75"/>
<rect x="795" y="423" width="12" height="8" fill="#8fa898" opacity="0.75"/>
<rect x="398" y="552" width="12" height="10" fill="#1e2a24" opacity="0.75"/>
<rect x="408" y="891" width="10" height="20" fill="#1e2a24" opacity="0.75"/>
<rect x="965" y="564" width="25" height="12" fill="#1e2a24" opacity="0.75"/>
<rect x="485" y="553" width="15" height="12" fill="#6f8a78" opacity="0.75"/>
<rect x="314" y="870" width="15" height="20" fill="#14301f" opacity="0.75"/>
<rect x="497" y="417" width="12" height="8" fill="#b8c4bc" opacity="0.75"/>
<rect x="381" y="644" width="25" height="20" fill="#14301f" opacity="0.75"/>
<rect x="734" y="775" width="12" height="15" fill="#1e2a24" opacity="0.75"/>
<rect x="776" y="559" width="12" height="8" fill="#1e2a24" opacity="0.75"/>
<rect x="535" y="327" width="20" height="20" fill="#1e2a24" opacity="0.75"/>
<rect x="448" y="889" width="12" height="10" fill="#6f8a78" opacity="0.75"/>
<rect x="918" y="378" width="20" height="15" fill="#14301f" opacity="0.75"/>
<rect x="857" y="387" width="12" height="10" fill="#d8dcd6" opacity="0.75"/>
<rect x="289" y="757" width="25" height="8" fill="#14301f" opacity="0.75"/>
<rect x="493" y="829" width="25" height="12" fill="#3a5a48" opacity="0.75"/>
<rect x="483" y="807" width="12" height="10" fill="#d8dcd6" opacity="0.75"/>
<rect x="914" y="642" width="20" height="15" fill="#d8dcd6" opacity="0.75"/>
<rect x="965" y="495" width="10" height="12" fill="#d8dcd6" opacity="0.75"/>
<rect x="189" y="570" width="20" height="8" fill="#14301f" opacity="0.75"/>
<rect x="646" y="463" width="15" height="15" fill="#b8c4bc" opacity="0.75"/>
<g fill="#6cc06e">
<rect x="170" y="290" width="135" height="32"/><rect x="460" y="292" width="110" height="30"/><rect x="578" y="292" width="137" height="30"/><rect x="765" y="292" width="263" height="30"/>
<rect x="160" y="935" width="140" height="33"/><rect x="320" y="935" width="110" height="33"/><rect x="450" y="935" width="115" height="33"/><rect x="578" y="935" width="137" height="33"/><rect x="770" y="930" width="265" height="32"/>
<rect x="95" y="360" width="32" height="60"/><rect x="95" y="470" width="32" height="60"/><rect x="95" y="540" width="32" height="120"/><rect x="95" y="680" width="32" height="110"/><rect x="95" y="800" width="32" height="120"/>
<rect x="1030" y="515" width="45" height="105"/><rect x="1030" y="630" width="45" height="105"/>
</g>
<g fill="#2a5fb0"><rect x="1015" y="400" width="50" height="105"/><rect x="1020" y="740" width="50" height="105"/></g>
<rect x="388" y="285" width="57" height="70" fill="#c4c4c4"/>
<g fill="#161616">
<rect x="800" y="330" width="200" height="80"/><rect x="800" y="420" width="160" height="50"/>
<rect x="790" y="830" width="210" height="85"/><rect x="790" y="790" width="170" height="40"/>
<rect x="175" y="815" width="105" height="90"/>
<rect x="370" y="550" width="55" height="55"/><rect x="495" y="615" width="40" height="40"/><rect x="545" y="720" width="40" height="40"/>
<rect x="170" y="375" width="50" height="30"/><rect x="250" y="375" width="50" height="30"/><rect x="335" y="375" width="40" height="30"/>
<rect x="490" y="400" width="40" height="22"/><rect x="565" y="400" width="40" height="22"/><rect x="640" y="400" width="40" height="22"/>
<rect x="245" y="440" width="75" height="90"/><rect x="130" y="655" width="95" height="50"/><rect x="430" y="690" width="40" height="100"/>
<rect x="690" y="530" width="60" height="20"/><rect x="700" y="640" width="60" height="20"/><rect x="750" y="740" width="80" height="20"/><rect x="740" y="490" width="85" height="20"/>
<rect x="425" y="840" width="50" height="30"/><rect x="500" y="840" width="55" height="30"/><rect x="585" y="840" width="50" height="30"/>
</g>
<g stroke="#e8e8e8" stroke-width="8"><path d="M840,340V400M875,340V400M905,340V400M940,340V400M965,340V400M830,845V905M860,845V905M890,845V905M925,845V905M955,845V905M300,885H420"/></g>
<circle cx="275" cy="580" r="35" fill="#333"/>
<g fill="#3a8fd0"><rect x="495" y="455" width="30" height="40"/><rect x="495" y="715" width="30" height="40"/><rect x="158" y="380" width="10" height="20"/><rect x="230" y="378" width="10" height="20"/><rect x="310" y="378" width="10" height="20"/></g>
<g fill="#eeeeee"><rect x="365" y="615" width="60" height="25"/><rect x="965" y="610" width="35" height="130"/><rect x="350" y="645" width="25" height="15"/></g>
<g fill="#3d7f4c" opacity="0.8">
<rect x="815" y="490" width="140" height="25"/><rect x="815" y="540" width="140" height="25"/><rect x="815" y="590" width="140" height="25"/><rect x="815" y="640" width="140" height="25"/><rect x="815" y="690" width="140" height="25"/><rect x="815" y="740" width="140" height="25"/>
<rect x="150" y="440" width="80" height="200"/><rect x="330" y="480" width="30" height="170"/><rect x="140" y="710" width="80" height="90"/>
</g>
</g>

<!-- charging modules -->
<defs>
<pattern id="hc" width="9" height="8" patternUnits="userSpaceOnUse">
<rect width="9" height="8" fill="#1b1e29"/>
<circle cx="2.5" cy="2" r="2.6" fill="#040506"/><circle cx="7" cy="6" r="2.6" fill="#040506"/>
</pattern>
</defs>
<g id="mod1">
<polygon points="427,1906 625,1906 662,1941 387,1941" fill="#f1f1f0"/>
<rect x="370" y="1941" width="309" height="79" fill="#151925"/>
<rect x="387" y="1941" width="275" height="3" fill="#8a8a8e"/>
<rect x="391" y="1947" width="242" height="68" fill="url(#hc)"/>
<g fill="#e8e8e8"><rect x="372" y="1952" width="4" height="9"/><rect x="372" y="1999" width="4" height="9"/><rect x="673" y="1952" width="4" height="9"/><rect x="673" y="1999" width="4" height="9"/></g>
<path d="M486,2015 V1997 Q486,1993 490,1993 H570 Q574,1993 574,1997 V2015" fill="none" stroke="#cdb676" stroke-width="3.2"/>
<g fill="#c9a860"><circle cx="444" cy="1981" r="2.5"/><circle cx="516" cy="1981" r="2.5"/><circle cx="589" cy="1981" r="2.5"/></g>
<g fill="#bbb"><rect x="638" y="1965" width="18" height="2"/><rect x="637" y="1978" width="20" height="8" fill="#444"/><rect x="640" y="1997" width="3" height="5"/><rect x="652" y="1997" width="3" height="5"/></g>
</g>
<use href="#mod1" transform="translate(871,0)"/>

<!-- meter: origin 1630,2370 scale 11.593 -->
<g transform="translate(1630,2370) scale(0.086259)">
<rect x="145" y="120" width="1255" height="1830" rx="40" fill="#d6d6d6"/>
<rect x="160" y="130" width="1235" height="1370" rx="30" fill="#e2e2e2"/>
<rect x="360" y="205" width="830" height="565" fill="#c6c6c6" stroke="#a8a8a8" stroke-width="12"/>
<rect x="440" y="300" width="680" height="320" fill="#7d8b72"/>
<rect x="440" y="705" width="35" height="55" fill="#a03030"/><rect x="665" y="705" width="35" height="55" fill="#b8a840"/><rect x="815" y="705" width="150" height="55" fill="#222"/>
<rect x="230" y="860" width="960" height="620" fill="#cdcdcd"/>
<rect x="1150" y="1050" width="125" height="430" fill="#c8c8c8"/>
<g fill="#222"><rect x="410" y="900" width="40" height="50"/><rect x="600" y="905" width="430" height="40" opacity="0.7"/><rect x="330" y="1000" width="740" height="45" opacity="0.55"/></g>
<rect x="360" y="1090" width="690" height="210" fill="#e6eaee"/>
<g fill="#1a1a1a"><rect x="415" y="1145" width="60" height="95"/><rect x="510" y="1145" width="130" height="95"/><rect x="690" y="1145" width="25" height="95"/><rect x="815" y="1145" width="140" height="95"/><rect x="985" y="1145" width="20" height="95"/></g>
<circle cx="235" cy="195" r="60" fill="#dde6b4"/><circle cx="1340" cy="1240" r="60" fill="#dde6b4"/>
<rect x="150" y="1500" width="1250" height="450" rx="30" fill="#bcbcbc"/>
<rect x="270" y="1560" width="1000" height="150" fill="#a8a8a8"/>
<rect x="310" y="1720" width="930" height="180" fill="#b0b0b0"/>
<g fill="#111"><rect x="165" y="1700" width="85" height="160" rx="20"/><rect x="1285" y="1710" width="85" height="150" rx="20"/></g>
<g fill="#8a7a50"><rect x="540" y="1600" width="70" height="60"/><rect x="630" y="1600" width="70" height="60"/><rect x="830" y="1600" width="70" height="60"/><rect x="930" y="1600" width="70" height="60"/><rect x="1030" y="1600" width="70" height="60"/><rect x="1140" y="1600" width="60" height="60"/><rect x="380" y="1750" width="60" height="120"/><rect x="620" y="1750" width="70" height="120"/><rect x="840" y="1750" width="70" height="120"/><rect x="1090" y="1750" width="70" height="120"/></g>
<rect x="510" y="1790" width="35" height="40" fill="#c02020"/>
</g>

<!-- converter: origin 1480,2700 scale 2.898 -->
<g transform="translate(1480,2700) scale(0.34507)">
<polygon points="638,48 965,48 968,95 985,100 1010,285 985,300 975,325 630,325 625,300 595,295 610,95 638,90" fill="#0b0b0c"/>
<ellipse cx="800" cy="200" rx="130" ry="70" fill="#131720" opacity="0.5"/>
<g fill="#bbb"><rect x="642" y="140" width="18" height="30"/><rect x="938" y="108" width="25" height="30"/><rect x="690" y="305" width="55" height="8"/><rect x="870" y="305" width="30" height="8"/></g>
</g>

<!-- car: origin 1280,2940 scale 3.246 -->
<g transform="translate(1280,2940) scale(0.30807)">
<path d="M135,670 Q150,630 215,605 Q250,520 330,492 Q400,470 560,470 Q760,475 850,500 Q960,560 1100,665 L1480,770 L1545,880 Q1540,1000 1500,1090 Q1350,1170 1200,1185 L960,1192 Q870,1180 810,1165 L760,1010 Q720,880 620,880 Q560,890 550,1020 L290,930 Q270,810 210,785 Q160,790 155,850 Q135,760 135,670 Z" fill="#dadada" stroke="#b4b4b4" stroke-width="6"/>
<polygon points="240,612 300,525 385,508 345,665 240,650" fill="#e9efeb" stroke="#9c9c9c" stroke-width="5"/>
<polygon points="355,668 395,502 465,505 520,688" fill="#e9efeb" stroke="#9c9c9c" stroke-width="5"/>
<polygon points="500,492 760,482 900,520 1090,665 580,692" fill="#e6efea" stroke="#a4a4a4" stroke-width="6"/>
<polygon points="760,482 900,520 1090,665 960,662" fill="#d8e6dc" opacity="0.6"/>
<polygon points="580,692 1090,665 1480,770 1455,830 1160,860 880,850 700,760" fill="#cfcfcf"/>
<path d="M230,650 Q220,720 240,805 L540,915 L520,690 Z" fill="none" stroke="#9a9a9a" stroke-width="5"/>
<path d="M340,668 L340,830" stroke="#9a9a9a" stroke-width="5"/>
<rect x="395" y="618" width="105" height="55" rx="12" fill="#bdbdbd"/>
<g fill="#999"><rect x="245" y="708" width="28" height="10"/><rect x="362" y="732" width="30" height="10"/></g>
<path d="M920,855 Q1030,845 1140,862 Q1200,890 1230,945 L1220,952 Q1080,958 930,962 Q905,900 920,855 Z" fill="#f8f8f5" stroke="#8c8c8c" stroke-width="5"/>
<polygon points="1255,862 1460,830 1448,935 1368,960" fill="#1c1c1c"/>
<g stroke="#f4f4f4" stroke-width="9"><path d="M1285,870L1350,955M1320,862L1370,950M1355,855L1395,945M1390,850L1415,940M1425,845L1435,935"/></g>
<path d="M930,990 Q1200,985 1540,880 Q1540,1000 1500,1090 Q1350,1170 1200,1185 L960,1192 Z" fill="#e0e0e0"/>
<g stroke="#f2f2f2" stroke-width="14" fill="none"><path d="M975,1070 Q1250,1040 1510,960M975,1120 Q1250,1095 1505,1020"/></g>
<path d="M552,1030 Q545,890 650,880 Q760,885 785,1030 L800,1160 L760,1160 Z" fill="#bdbdbd"/>
<path d="M140,860 Q150,760 215,765 Q280,770 300,930 L290,960 Z" fill="#c4c4c4"/>
<path d="M742,1140 L812,1165 Q800,1212 700,1215 Z" fill="#111"/>
<path d="M252,912 L297,925 Q290,972 230,975 Z" fill="#111"/>
<ellipse cx="662" cy="1055" rx="100" ry="161" fill="#1f1f1f"/>
<ellipse cx="660" cy="1067" rx="55" ry="105" fill="#a9a9a9"/>
<ellipse cx="655" cy="1060" rx="44" ry="92" fill="#d8d8d8"/>
<ellipse cx="660" cy="1067" rx="28" ry="55" fill="#6a6a6a"/>
<ellipse cx="205" cy="878" rx="48" ry="99" fill="#1f1f1f"/>
<ellipse cx="210" cy="888" rx="33" ry="64" fill="#a9a9a9"/>
<ellipse cx="207" cy="884" rx="26" ry="54" fill="#d6d6d6"/>
<ellipse cx="210" cy="887" rx="17" ry="37" fill="#6a6a6a"/>
<path d="M262,887 L547,1012" stroke="#8e8e8e" stroke-width="5"/>
</g>

<text x="413.0" y="218.0" font-size="104" fill="#000" textLength="1658.1" lengthAdjust="spacingAndGlyphs">Charging system solution--single gun</text>
<text x="1632.0" y="611.0" font-size="55" fill="#fff" font-weight="bold" textLength="143.1" lengthAdjust="spacingAndGlyphs">OCPP</text>
<text x="1609.0" y="671.0" font-size="55" fill="#fff" font-weight="bold" textLength="195.0" lengthAdjust="spacingAndGlyphs">SERVER</text>
<text x="456.0" y="640.0" font-size="45" fill="#2f5a8c" textLength="26.0" lengthAdjust="spacingAndGlyphs">A</text>
<text x="522.0" y="640.0" font-size="45" fill="#2f5a8c" textLength="27.8" lengthAdjust="spacingAndGlyphs">B</text>
<text x="589.0" y="640.0" font-size="45" fill="#2f5a8c" textLength="27.3" lengthAdjust="spacingAndGlyphs">C</text>
<text x="657.0" y="640.0" font-size="45" fill="#2f5a8c" textLength="30.1" lengthAdjust="spacingAndGlyphs">N</text>
<text x="1515.0" y="804.0" font-size="45" fill="#2f5a8c" textLength="369.0" lengthAdjust="spacingAndGlyphs">4G/Wired Network</text>
<text x="1216.0" y="1020.0" font-size="45" fill="#2f5a8c" textLength="249.0" lengthAdjust="spacingAndGlyphs">Card Reader</text>
<text x="1542.0" y="1087.0" font-size="45" fill="#2f5a8c" textLength="124.1" lengthAdjust="spacingAndGlyphs">RS232</text>
<text x="1737.0" y="1087.0" font-size="45" fill="#2f5a8c" textLength="126.2" lengthAdjust="spacingAndGlyphs">RS232</text>
<text x="2038.0" y="1061.0" font-size="45" fill="#2f5a8c" textLength="202.1" lengthAdjust="spacingAndGlyphs">Usart Hmi</text>
<text x="1061.5" y="1392.0" font-size="43" fill="#2f5a8c" textLength="115.6" lengthAdjust="spacingAndGlyphs">SMPS</text>
<text x="811.0" y="1439.0" font-size="45" fill="#2f5a8c" textLength="638.5" lengthAdjust="spacingAndGlyphs">(Switching Mode Power Supply)</text>
<text x="1189.0" y="1559.0" font-size="44" fill="#2f5a8c" textLength="86.3" lengthAdjust="spacingAndGlyphs">CAN</text>
<text x="1560.0" y="1677.0" font-size="44" fill="#2f5a8c" textLength="270.0" lengthAdjust="spacingAndGlyphs">THCDKZQ-D2</text>
<text x="315.0" y="2072.0" font-size="45" fill="#2f5a8c" textLength="450.0" lengthAdjust="spacingAndGlyphs">Acdc Charging Module</text>
<text x="1172.0" y="2075.0" font-size="45" fill="#2f5a8c" textLength="450.0" lengthAdjust="spacingAndGlyphs">Acdc Charging Module</text>
<text x="1793.0" y="2476.0" font-size="45" fill="#2f5a8c" textLength="126.1" lengthAdjust="spacingAndGlyphs">RS485</text>
<text x="1941.0" y="2581.0" font-size="45" fill="#2f5a8c" textLength="84.2" lengthAdjust="spacingAndGlyphs">CAN</text>
<text x="1232.5" y="2713.0" font-size="45" fill="#2f5a8c" textLength="119.7" lengthAdjust="spacingAndGlyphs">K1/K2</text>
<text x="1536.0" y="2772.0" font-size="45" fill="#2f5a8c" textLength="78.2" lengthAdjust="spacingAndGlyphs">PLC</text>
<text x="1872.0" y="2776.0" font-size="45" fill="#2f5a8c" textLength="86.8" lengthAdjust="spacingAndGlyphs">CAN</text>
<text x="1595.0" y="2859.0" font-size="44" fill="#2f5a8c" textLength="329.1" lengthAdjust="spacingAndGlyphs">Communication</text>
<text x="1666.0" y="2912.0" font-size="44" fill="#2f5a8c" textLength="179.1" lengthAdjust="spacingAndGlyphs">converte</text></svg>
</body></html>
